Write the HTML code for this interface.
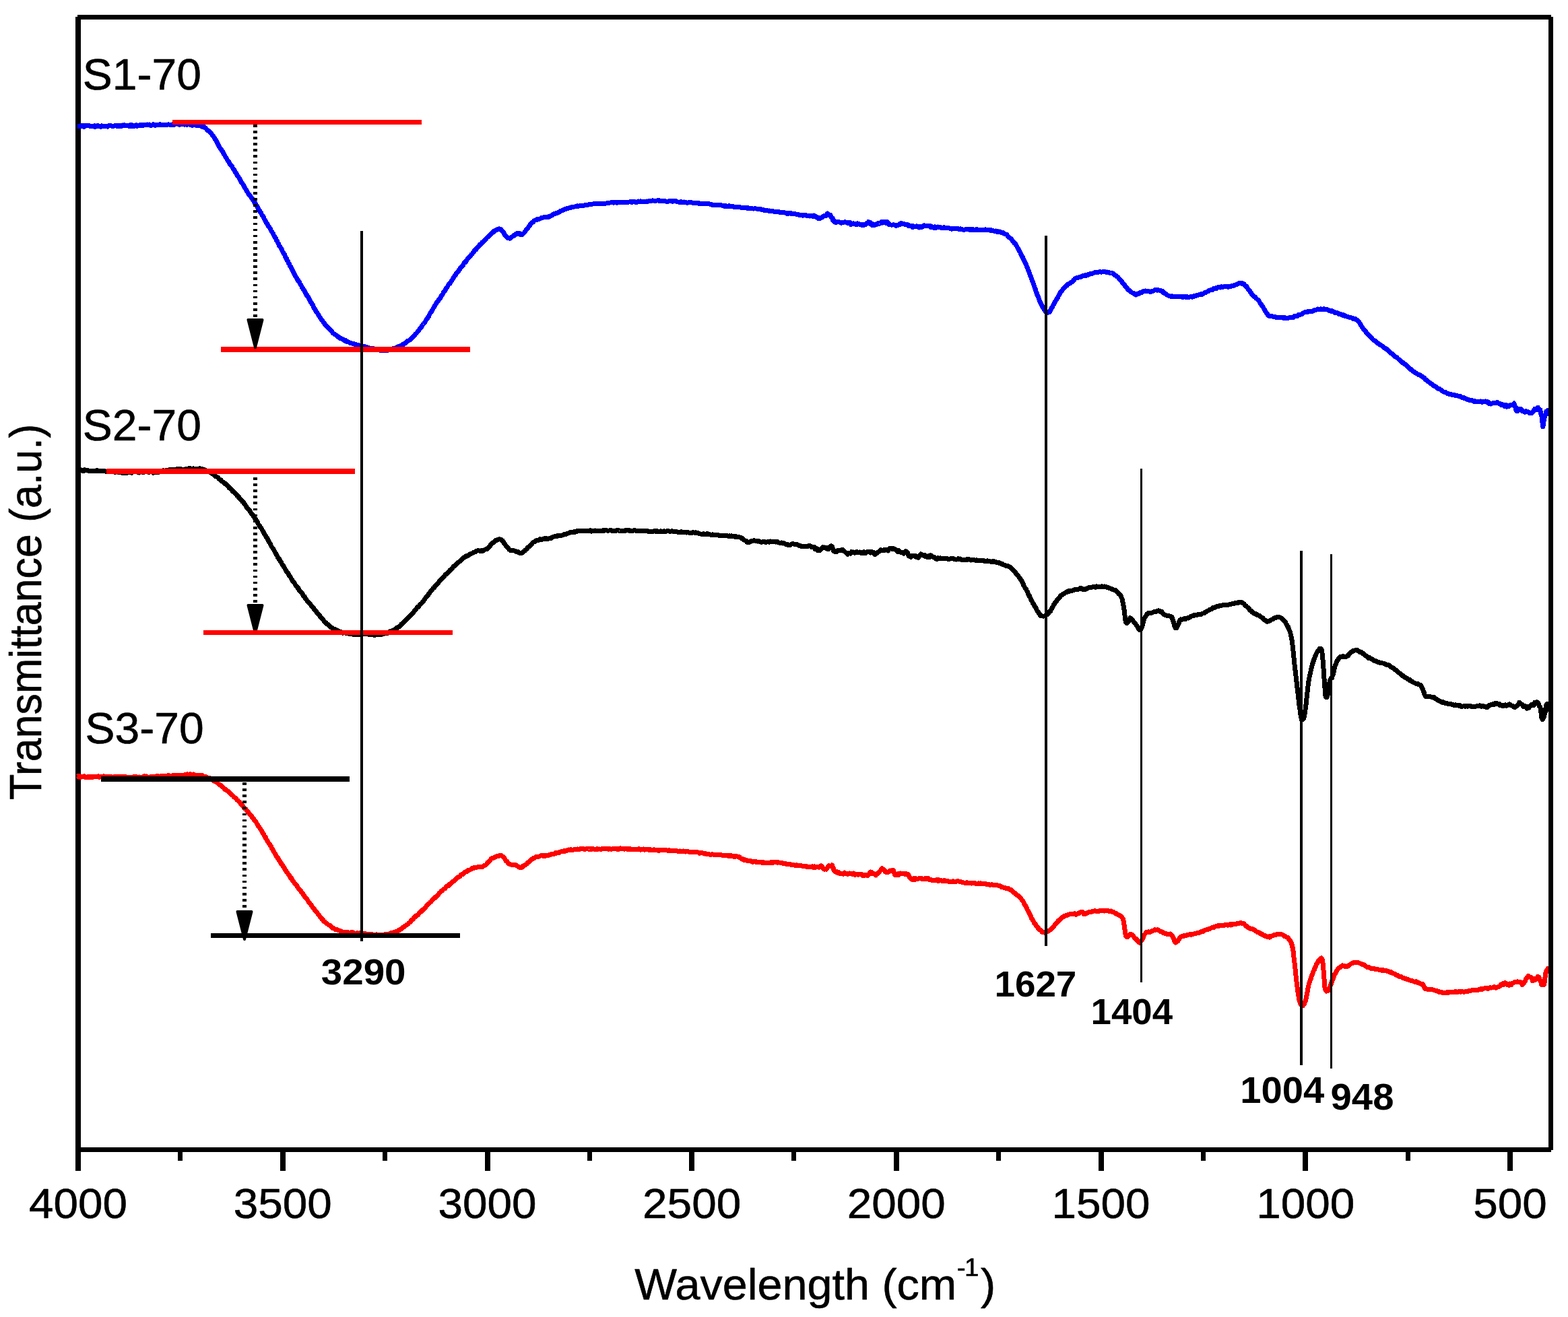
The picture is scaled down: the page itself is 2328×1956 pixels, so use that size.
<!DOCTYPE html>
<html lang="en">
<head>
<meta charset="utf-8">
<title>FTIR spectra S1-70, S2-70, S3-70</title>
<style>
html,body{margin:0;padding:0;background:#fff;}
body{width:2328px;height:1956px;}
svg{display:block;}
svg text{font-family:"Liberation Sans", Arial, Helvetica, sans-serif;fill:#000;stroke:#000;stroke-width:0.6px;stroke-linejoin:round;}
svg text[font-weight="bold"]{stroke:none;}
.curve{fill:none;stroke-linejoin:round;stroke-linecap:butt;}
</style>
</head>
<body>
<svg width="2328" height="1956" viewBox="0 0 2328 1956" role="img" aria-label="FTIR transmittance spectra of S1-70, S2-70 and S3-70">
<rect x="0" y="0" width="2328" height="1956" fill="#fff"/>
<g id="frame" fill="#000" shape-rendering="crispEdges">
<rect x="115" y="22" width="2188" height="7"/>
<rect x="112" y="25" width="8" height="1714"/>
<rect x="112" y="1704" width="2191" height="7"/>
<rect x="416" y="1708" width="8" height="31"/>
<rect x="720" y="1708" width="8" height="31"/>
<rect x="1023" y="1708" width="8" height="31"/>
<rect x="1327" y="1708" width="8" height="31"/>
<rect x="1631" y="1708" width="8" height="31"/>
<rect x="1934" y="1708" width="8" height="31"/>
<rect x="2238" y="1708" width="8" height="31"/>
<rect x="264" y="1708" width="7" height="16"/>
<rect x="568" y="1708" width="7" height="16"/>
<rect x="872" y="1708" width="7" height="16"/>
<rect x="1175" y="1708" width="7" height="16"/>
<rect x="1479" y="1708" width="7" height="16"/>
<rect x="1783" y="1708" width="7" height="16"/>
<rect x="2087" y="1708" width="7" height="16"/>
</g>
<g id="curves">
<path class="curve" stroke="#0000ff" stroke-width="7.0" shape-rendering="crispEdges" d="M115.0,187.3 115.8,187.3 116.7,187.6 117.7,187.2 118.8,187.9 120.1,186.7 121.4,187.5 122.8,186.2 124.2,188.3 125.8,187.7 127.4,186.3 129.1,186.4 130.8,186.7 132.6,186.9 134.4,187.7 136.2,187.4 138.1,187.5 140.0,186.7 141.2,188.5 142.5,188.0 143.8,186.9 145.1,186.5 146.5,187.3 147.9,187.4 149.3,188.5 150.8,186.9 152.2,187.6 153.7,187.7 155.2,187.8 156.7,187.2 158.3,187.0 159.8,188.1 161.4,186.8 163.0,186.2 164.5,186.6 166.1,187.1 167.7,187.5 169.3,187.2 170.8,186.5 172.4,186.1 173.9,187.5 175.5,187.6 177.0,186.4 178.5,187.2 180.0,187.7 181.5,186.0 183.0,186.4 184.4,185.8 185.9,186.6 187.4,186.5 188.9,186.2 190.3,186.6 191.8,187.4 193.3,185.7 194.7,187.3 196.2,185.9 197.7,187.5 199.1,187.3 200.6,186.8 202.1,185.7 203.6,187.2 205.0,186.5 206.5,186.6 208.0,185.6 209.5,186.3 211.0,185.1 212.5,186.5 214.0,185.4 215.5,185.5 217.0,185.3 218.5,184.9 220.0,185.3 221.5,184.9 223.0,186.3 224.5,186.1 226.1,186.0 227.7,184.6 229.3,186.1 230.9,186.3 232.6,185.4 234.2,185.5 235.8,186.0 237.5,184.8 239.1,185.7 240.8,185.4 242.4,186.0 244.0,185.3 245.6,185.9 247.1,185.6 248.7,185.3 250.2,184.8 251.7,185.2 253.1,185.0 254.6,185.7 255.9,184.7 257.2,185.1 258.5,185.5 259.7,185.0 260.9,184.4 262.0,183.7 264.4,184.3 266.5,185.2 268.3,183.2 270.0,184.5 271.5,183.4 272.9,184.7 274.1,185.2 275.3,184.7 276.5,184.2 277.6,185.4 278.8,184.6 280.0,184.6 281.8,184.8 283.5,185.9 285.1,186.3 286.6,184.7 288.1,185.0 289.4,185.3 290.7,185.8 292.0,186.6 293.8,186.3 295.5,185.4 296.9,186.0 298.4,187.5 300.0,188.2 301.2,187.7 302.4,188.2 303.6,189.3 304.8,189.6 306.1,191.1 307.3,192.4 308.6,194.0 309.5,193.9 310.4,194.8 311.4,195.9 312.3,196.6 313.3,197.9 314.3,199.3 315.2,200.8 316.2,202.1 317.1,202.6 318.1,204.9 318.8,205.4 319.6,207.2 320.3,207.9 321.0,209.5 321.8,210.5 322.5,211.4 323.2,213.6 323.9,214.8 324.7,216.2 325.4,217.7 326.1,218.8 326.9,220.1 327.6,220.7 328.4,222.0 329.2,223.7 330.0,224.0 330.7,225.5 331.5,227.1 332.3,229.1 333.1,229.4 333.9,231.5 334.7,232.9 335.5,234.1 336.3,235.0 337.1,236.8 337.9,238.1 338.6,239.0 339.3,240.2 340.0,240.9 340.7,242.8 341.4,243.6 342.2,244.4 343.0,245.1 343.8,246.7 344.6,247.3 345.6,249.6 346.5,251.4 347.6,252.6 348.2,253.1 348.9,254.7 349.6,256.7 350.4,257.1 351.1,258.2 351.9,260.3 352.7,260.8 353.6,262.5 354.4,263.4 355.3,264.7 356.1,266.3 357.0,267.9 357.8,269.7 358.7,271.1 359.5,272.2 360.4,273.1 361.2,274.8 362.0,276.1 362.8,277.1 363.6,279.0 364.3,280.1 365.0,281.5 365.7,282.2 366.7,284.6 367.6,285.5 368.5,287.5 369.3,288.7 370.1,288.8 370.8,290.6 371.6,290.7 372.3,292.3 373.1,293.1 373.8,294.8 374.6,295.1 375.4,297.3 376.2,297.7 377.1,299.8 378.0,301.2 378.7,301.3 379.4,302.3 380.2,304.2 380.9,305.0 381.7,306.3 382.5,308.8 383.4,309.1 384.2,311.5 385.0,312.6 385.8,313.6 386.7,315.0 387.5,315.8 388.3,318.4 389.1,319.2 389.9,320.5 390.7,321.4 391.5,322.5 392.2,325.0 393.0,326.4 393.6,326.9 394.3,328.2 395.2,330.2 396.0,331.6 396.7,332.6 397.4,333.3 398.0,335.0 398.6,335.8 399.1,336.3 399.7,336.9 400.4,338.4 401.1,339.2 401.8,340.9 402.7,342.8 403.7,343.7 404.8,346.1 405.3,346.9 405.9,348.4 406.5,349.7 407.1,350.0 407.8,352.1 408.5,352.8 409.2,353.6 409.9,354.8 410.6,357.2 411.4,358.1 412.2,359.8 413.0,361.5 413.7,362.3 414.5,364.7 415.3,366.2 416.1,366.9 416.9,368.4 417.8,369.4 418.6,371.5 419.3,373.3 420.1,374.2 420.9,376.1 421.7,377.7 422.4,378.1 423.1,379.4 423.9,381.6 424.5,383.1 425.2,383.4 425.9,386.0 426.5,386.9 427.0,387.4 427.6,388.3 428.6,391.2 429.6,392.4 430.4,394.7 431.2,395.3 431.9,397.2 432.6,397.8 433.3,399.2 433.9,401.1 434.5,401.7 435.1,403.1 435.7,404.4 436.3,406.3 436.9,406.6 437.6,408.5 438.3,409.5 439.0,410.2 439.7,411.9 440.3,413.2 441.0,413.7 441.6,415.8 442.3,416.9 442.9,416.6 443.5,418.1 444.2,418.8 444.9,419.9 445.6,421.7 446.3,422.9 447.0,423.9 447.8,424.9 448.6,427.1 449.5,427.4 450.4,429.7 451.4,430.9 452.4,432.7 453.0,434.0 453.6,435.9 454.3,436.4 455.0,438.1 455.7,438.5 456.4,440.3 457.2,440.4 457.9,442.3 458.7,443.5 459.5,444.7 460.3,446.8 461.1,447.5 461.9,449.6 462.7,450.2 463.6,452.4 464.4,453.0 465.2,455.2 466.1,457.3 466.9,458.2 467.8,459.5 468.6,460.9 469.4,463.1 470.2,463.6 471.1,464.9 471.9,466.2 472.7,467.6 473.4,468.9 474.2,470.2 475.0,471.5 475.7,472.1 476.4,473.3 477.1,474.4 478.2,476.2 479.3,477.0 480.4,479.4 481.5,479.7 482.5,482.1 483.5,482.8 484.6,484.0 485.5,484.5 486.5,486.2 487.5,487.3 488.5,487.7 489.4,489.3 490.4,490.0 491.3,491.2 492.3,491.8 493.2,493.1 494.2,494.3 495.2,495.3 496.2,495.9 497.5,497.0 498.7,497.7 500.0,498.3 501.3,500.4 502.5,500.1 503.8,501.2 505.1,502.6 506.3,502.4 507.6,503.5 508.9,503.8 510.1,504.7 511.4,506.1 512.7,505.5 513.9,506.2 515.2,507.5 516.7,507.6 518.1,508.2 519.6,509.3 521.1,509.5 522.5,510.0 524.0,510.9 525.5,510.8 527.0,512.0 528.4,511.4 529.9,512.6 531.4,512.3 532.8,512.9 534.3,513.8 535.8,513.3 537.2,513.9 538.7,514.7 540.2,514.9 541.6,514.6 543.1,515.1 544.5,516.0 546.0,517.1 547.4,516.8 548.9,517.3 550.4,517.6 551.8,518.1 553.3,517.5 554.8,517.7 556.2,518.5 557.7,519.1 559.2,519.1 560.6,519.6 562.1,519.6 563.6,520.0 565.1,520.6 566.5,521.0 568.0,520.3 569.5,520.1 570.9,520.7 572.4,520.5 573.9,519.9 575.3,520.5 576.8,520.0 578.3,519.2 579.7,518.8 581.2,518.8 582.6,518.9 584.1,517.6 585.5,517.2 587.0,517.0 588.5,516.1 589.9,515.9 591.4,514.6 592.7,514.3 593.9,514.2 595.2,513.3 596.5,512.4 597.8,511.5 599.0,511.7 600.3,510.4 601.6,510.0 602.9,508.5 604.1,507.4 605.4,506.4 606.7,506.1 608.0,505.3 609.2,504.6 610.5,502.7 611.5,501.4 612.4,501.3 613.4,500.6 614.3,499.4 615.3,497.9 616.2,497.2 617.2,495.6 618.1,495.1 619.1,493.9 620.0,492.8 620.9,491.5 621.9,490.2 622.8,489.1 623.8,487.8 624.7,487.1 625.7,485.8 626.6,483.6 627.6,482.2 628.5,481.5 629.5,480.5 630.3,478.7 631.1,478.1 631.9,476.7 632.7,475.1 633.5,473.6 634.3,473.5 635.1,471.8 635.9,470.7 636.7,469.4 637.5,467.6 638.3,465.9 639.1,464.5 639.8,463.2 640.6,463.1 641.4,460.9 642.2,460.2 643.0,458.7 643.8,456.7 644.6,455.8 645.4,454.3 646.2,452.8 647.0,451.6 647.8,450.5 648.6,448.9 649.4,447.8 650.3,447.3 651.1,445.7 651.9,444.9 652.7,443.7 653.6,442.8 654.4,441.4 655.2,439.5 656.0,438.9 656.9,437.1 657.7,436.3 658.5,433.9 659.3,433.8 660.2,432.3 661.0,430.7 661.8,429.1 662.6,428.3 663.5,427.0 664.3,426.0 665.1,424.2 665.9,423.1 666.8,421.4 667.6,421.6 668.5,420.3 669.3,418.9 670.2,417.5 671.1,416.5 671.9,414.9 672.8,413.2 673.7,411.5 674.5,410.6 675.4,409.0 676.3,408.9 677.1,407.0 678.0,405.4 678.9,405.2 679.8,403.4 680.6,403.1 681.5,400.8 682.4,400.5 683.2,398.5 684.1,397.7 685.0,396.3 685.8,396.3 686.7,394.6 687.7,393.6 688.6,391.1 689.6,390.3 690.5,390.0 691.5,387.9 692.4,387.8 693.4,385.5 694.3,384.5 695.3,383.3 696.2,382.0 697.1,381.7 698.1,380.4 699.0,379.3 700.0,377.7 700.9,377.2 701.9,376.0 702.8,375.2 703.8,373.5 704.7,371.8 705.7,371.1 706.8,370.5 707.9,368.5 709.0,367.3 710.1,366.4 711.2,365.6 712.3,363.4 713.5,363.2 714.6,362.2 715.7,360.1 716.8,359.6 717.9,358.4 719.0,357.2 720.0,356.6 721.1,355.2 722.1,353.9 723.0,353.0 723.9,352.2 724.8,352.0 726.3,350.7 727.6,348.8 728.9,347.6 730.1,345.8 731.2,345.8 732.3,345.1 733.3,343.2 734.3,342.8 735.2,342.2 736.2,342.0 738.0,341.2 739.5,340.3 740.9,339.8 742.3,340.1 743.8,340.7 744.8,341.9 745.7,343.1 746.7,344.7 747.7,345.4 748.7,347.4 749.6,349.2 750.5,349.9 751.4,350.6 752.9,351.9 754.2,353.8 755.6,353.6 757.1,354.2 758.3,352.9 759.6,352.1 760.9,351.2 762.3,349.8 763.6,349.8 764.8,348.8 766.4,347.3 767.9,346.7 769.3,347.3 770.5,346.3 771.8,347.7 772.8,348.6 774.3,348.3 775.2,348.6 776.1,347.7 777.2,346.6 778.3,345.8 779.5,344.3 780.7,342.2 781.9,340.9 782.8,339.3 783.7,338.5 784.6,337.2 785.6,336.5 786.5,334.7 787.5,333.2 788.5,332.4 789.5,330.7 790.4,329.9 791.4,329.9 792.7,328.1 794.0,327.0 795.3,326.8 796.6,326.8 797.9,325.4 799.4,325.3 801.0,325.3 802.2,324.8 803.6,323.5 804.9,323.5 806.4,323.0 807.9,322.7 809.4,322.9 810.9,322.3 812.3,322.3 813.8,322.6 815.2,321.4 816.5,321.5 817.8,320.5 819.1,319.8 820.3,319.2 821.6,318.0 822.9,317.9 824.2,317.5 825.6,316.3 827.0,316.5 828.6,315.4 829.9,315.3 831.1,313.9 832.4,313.2 833.7,313.1 835.1,312.3 836.4,311.9 837.9,310.9 839.3,310.8 840.9,310.4 842.4,309.1 844.1,309.1 845.8,308.7 847.6,308.4 848.9,307.5 850.2,307.6 851.5,307.3 852.8,307.0 854.2,306.8 855.6,306.2 857.0,305.9 858.5,306.2 860.0,306.0 861.5,305.4 863.0,305.9 864.6,305.2 866.1,305.4 867.8,305.0 869.4,304.5 871.1,304.7 872.7,304.1 874.5,303.6 876.2,303.8 877.5,303.4 878.9,303.2 880.3,303.0 881.8,302.9 883.2,303.0 884.7,302.5 886.2,302.9 887.7,302.8 889.2,303.0 890.8,302.4 892.3,302.9 893.9,302.5 895.4,302.4 897.0,302.7 898.6,302.2 900.2,302.0 901.8,301.4 903.4,301.8 904.9,301.2 906.5,300.9 908.1,300.8 909.7,300.5 911.2,301.1 912.8,300.6 914.3,300.7 915.8,301.1 917.4,300.1 919.0,300.5 920.6,300.4 922.2,300.3 923.8,300.4 925.4,300.8 927.0,301.0 928.7,300.3 930.3,300.6 931.9,300.9 933.5,300.1 935.1,299.8 936.7,299.4 938.3,300.6 939.8,299.6 941.3,300.0 942.8,299.9 944.3,300.8 945.8,300.1 947.2,299.0 948.5,299.8 949.9,299.1 951.2,298.8 952.4,299.4 954.3,299.0 956.1,299.8 957.8,299.0 959.3,299.4 960.7,299.0 962.1,299.1 963.4,298.5 964.7,298.2 966.0,298.5 967.3,298.2 968.7,297.9 970.1,298.0 971.7,298.2 973.4,298.3 975.2,298.0 976.5,297.6 977.8,298.1 979.1,297.8 980.4,298.9 981.8,298.7 983.2,298.2 984.7,298.3 986.1,298.4 987.6,298.7 989.1,299.1 990.6,299.4 992.2,299.2 993.7,298.5 995.3,298.4 996.8,298.2 998.4,299.2 1000.0,299.0 1001.6,298.5 1003.2,298.6 1004.8,299.8 1006.3,299.9 1007.9,300.1 1009.5,300.2 1011.0,299.6 1012.4,300.2 1013.9,300.1 1015.4,300.0 1016.9,300.4 1018.4,300.6 1019.9,301.3 1021.4,301.1 1022.9,300.6 1024.5,300.9 1026.0,300.9 1027.5,300.9 1029.1,301.6 1030.6,301.2 1032.2,301.2 1033.7,301.6 1035.3,301.7 1036.8,301.5 1038.4,302.6 1039.9,302.5 1041.5,302.5 1043.0,302.8 1044.5,302.9 1046.1,302.3 1047.6,302.2 1049.1,303.0 1050.5,302.8 1052.0,302.9 1053.5,302.9 1054.9,303.4 1056.4,303.4 1057.9,304.4 1059.3,304.3 1060.8,304.3 1062.3,304.6 1063.7,304.3 1065.2,304.4 1066.7,304.2 1068.1,304.9 1069.6,304.3 1071.0,305.0 1072.5,305.3 1074.0,305.0 1075.4,306.2 1076.9,305.5 1078.4,306.6 1079.8,306.5 1081.3,306.6 1082.8,305.7 1084.2,306.5 1085.7,307.0 1087.2,306.8 1088.6,306.5 1090.1,307.6 1091.6,307.7 1093.0,307.4 1094.5,307.2 1096.0,307.8 1097.4,307.6 1098.9,307.8 1100.4,308.2 1101.8,308.5 1103.3,308.8 1104.8,308.0 1106.2,308.1 1107.7,308.4 1109.1,309.3 1110.6,308.5 1112.1,309.5 1113.5,309.8 1115.0,309.9 1116.5,309.5 1117.9,310.0 1119.4,310.0 1120.9,309.3 1122.3,309.9 1123.8,310.1 1125.3,310.9 1126.8,310.2 1128.3,311.0 1129.9,310.6 1131.4,311.6 1133.0,311.2 1134.6,312.3 1136.2,312.2 1137.8,312.4 1139.4,312.7 1141.0,313.2 1142.5,312.9 1144.1,313.8 1145.7,313.7 1147.2,313.7 1148.7,314.2 1150.2,314.4 1151.7,314.2 1153.1,314.4 1154.5,315.0 1155.8,314.5 1157.1,314.9 1158.4,316.0 1159.6,315.7 1160.8,315.3 1161.9,315.3 1164.1,315.8 1166.1,316.1 1167.8,317.1 1169.4,316.9 1170.8,317.3 1172.1,316.5 1173.4,317.1 1174.6,316.8 1175.9,317.8 1177.2,317.4 1178.5,317.1 1180.0,317.3 1181.5,317.9 1182.9,318.8 1184.5,318.4 1186.0,319.1 1187.6,319.8 1189.1,319.1 1190.7,319.6 1192.2,320.1 1193.7,319.4 1195.1,319.6 1196.5,319.5 1197.8,320.3 1199.0,320.7 1200.8,320.9 1202.6,321.1 1204.2,320.6 1205.6,321.1 1207.0,321.7 1208.3,320.0 1209.4,320.7 1210.5,321.5 1212.1,321.8 1213.2,323.4 1214.0,323.4 1215.2,324.8 1216.4,324.8 1217.7,323.6 1219.1,323.6 1220.5,322.7 1221.9,321.2 1223.2,320.6 1224.6,320.7 1225.9,319.7 1227.3,320.0 1228.6,317.1 1229.7,319.2 1230.9,319.8 1232.1,320.0 1233.2,319.7 1234.3,323.1 1235.2,323.9 1235.9,323.7 1236.3,324.3 1236.6,327.1 1237.4,327.1 1239.0,329.4 1239.9,329.2 1241.0,330.5 1242.2,329.1 1243.5,329.4 1244.8,329.9 1246.3,329.9 1247.8,330.3 1249.4,331.2 1251.1,330.3 1252.7,330.3 1254.5,329.5 1256.2,330.3 1257.5,330.3 1258.9,331.5 1260.3,331.1 1261.9,330.6 1263.4,333.5 1265.0,332.6 1266.7,331.9 1268.3,333.0 1270.0,332.8 1271.6,333.7 1273.1,331.8 1274.7,332.3 1276.1,333.1 1277.5,333.4 1278.8,334.1 1280.0,334.7 1281.0,333.2 1283.4,334.2 1285.0,333.4 1286.3,332.8 1287.3,331.5 1288.3,331.9 1289.5,329.4 1290.9,332.0 1292.2,330.5 1293.5,332.5 1294.9,334.8 1296.4,333.1 1298.1,334.3 1299.4,334.1 1300.8,333.7 1302.3,332.5 1303.9,331.4 1305.5,332.5 1307.1,331.3 1308.6,329.4 1310.1,331.1 1311.4,331.0 1313.0,329.5 1314.4,331.0 1315.8,331.3 1317.1,329.6 1318.4,331.1 1319.7,333.4 1321.0,333.2 1322.4,333.9 1323.7,334.1 1325.1,334.0 1326.4,333.8 1327.8,334.1 1329.1,335.0 1330.5,335.2 1331.8,334.7 1333.0,334.6 1334.3,333.8 1335.5,332.8 1336.9,333.2 1338.3,331.5 1340.0,332.6 1341.2,332.3 1342.4,332.4 1343.7,333.8 1345.1,333.3 1346.5,333.2 1348.0,333.6 1349.4,336.0 1350.9,335.9 1352.4,336.0 1353.8,335.2 1355.2,337.5 1356.7,336.0 1358.2,336.5 1359.7,337.0 1361.1,335.8 1362.6,337.0 1364.1,338.0 1365.6,336.3 1367.2,337.3 1368.8,337.3 1370.5,335.7 1371.8,334.8 1373.2,335.5 1374.6,335.3 1376.1,335.7 1377.5,335.1 1379.0,335.7 1380.5,335.2 1382.0,337.5 1383.5,336.8 1385.0,337.1 1386.5,338.3 1388.0,336.8 1389.5,338.3 1391.0,338.0 1392.4,337.0 1393.9,337.8 1395.4,337.7 1396.8,337.6 1398.3,338.5 1399.8,338.5 1401.3,337.6 1402.7,338.0 1404.2,338.2 1405.7,338.7 1407.1,338.6 1408.6,338.8 1410.1,339.3 1411.5,339.8 1413.0,340.1 1414.5,339.2 1415.9,339.4 1417.4,339.6 1418.8,339.5 1420.3,339.9 1421.7,339.5 1423.2,340.1 1424.7,340.4 1426.1,339.9 1427.6,340.4 1429.1,341.0 1430.5,341.1 1432.0,341.3 1433.5,340.5 1434.9,340.9 1436.4,340.8 1437.9,340.3 1439.4,341.5 1440.8,340.2 1442.3,341.5 1443.8,340.1 1445.2,341.2 1446.7,341.1 1448.2,341.6 1449.7,340.4 1451.2,341.8 1452.8,341.2 1454.4,341.1 1455.9,341.6 1457.4,341.3 1459.0,341.1 1460.4,341.4 1461.8,341.9 1463.2,340.9 1464.5,341.4 1465.7,341.4 1467.5,341.9 1469.0,341.9 1470.4,342.4 1471.8,341.7 1473.0,342.0 1474.3,342.8 1475.6,343.0 1477.1,343.4 1478.5,342.9 1480.0,344.2 1481.5,343.6 1483.0,344.9 1484.6,344.0 1486.1,345.4 1487.6,345.8 1489.1,345.6 1490.5,346.9 1491.7,347.6 1492.9,347.8 1494.1,348.0 1495.3,349.1 1496.4,350.9 1497.6,352.1 1498.7,353.0 1499.8,353.7 1500.8,354.2 1501.9,355.8 1502.8,357.1 1503.7,357.9 1504.6,358.5 1505.5,360.6 1506.3,360.6 1507.2,361.6 1508.0,362.9 1508.9,364.6 1509.7,366.0 1510.5,367.5 1511.4,368.5 1512.1,369.6 1512.8,371.6 1513.5,372.7 1514.1,373.6 1514.8,374.9 1515.5,377.3 1516.2,378.1 1516.9,379.5 1517.6,381.4 1518.3,381.7 1518.9,383.8 1519.6,384.7 1520.3,386.9 1521.0,387.3 1521.6,389.5 1522.1,390.6 1522.7,391.3 1523.2,392.6 1523.8,393.7 1524.4,395.2 1524.9,396.9 1525.5,397.9 1526.0,399.7 1526.6,401.0 1527.2,402.1 1527.7,403.6 1528.3,405.9 1528.8,406.5 1529.4,409.0 1529.9,409.2 1530.5,410.8 1531.0,412.1 1531.5,413.7 1532.0,415.5 1532.5,416.7 1533.0,418.6 1533.6,419.3 1534.1,420.8 1534.6,422.3 1535.1,423.7 1535.6,425.1 1536.1,426.8 1536.6,428.0 1537.1,429.2 1537.6,430.9 1538.1,433.1 1538.6,434.5 1539.1,435.1 1539.5,437.1 1540.0,437.6 1540.7,439.7 1541.3,440.6 1541.9,441.9 1542.5,444.3 1543.1,446.0 1543.7,447.3 1544.3,448.7 1544.9,449.1 1545.5,450.6 1546.0,452.4 1546.6,452.8 1547.1,454.2 1547.6,455.4 1548.5,456.9 1549.4,458.4 1550.2,460.1 1551.0,460.6 1551.7,462.0 1552.5,463.4 1553.3,462.8 1554.7,463.4 1556.0,464.3 1557.4,463.8 1559.0,462.3 1559.6,460.9 1560.3,459.6 1560.9,458.0 1561.6,457.0 1562.3,456.4 1563.0,454.7 1563.8,452.8 1564.5,451.8 1565.2,450.8 1566.0,449.4 1566.7,447.3 1567.4,446.7 1568.2,445.7 1569.0,443.6 1569.8,442.6 1570.6,441.6 1571.3,439.7 1572.1,438.3 1572.9,437.3 1573.7,435.7 1574.5,434.1 1575.2,433.6 1576.2,432.5 1577.2,430.8 1578.2,429.5 1579.1,428.0 1580.1,427.6 1581.0,426.4 1581.9,426.0 1582.9,424.2 1584.2,424.2 1585.4,422.2 1586.7,421.4 1588.0,421.2 1589.2,420.7 1590.5,419.3 1591.6,419.0 1592.6,417.8 1593.6,416.2 1594.6,416.3 1595.7,414.2 1596.8,413.4 1598.1,412.9 1599.3,412.2 1600.7,412.3 1602.1,411.7 1603.6,411.5 1605.1,411.1 1606.6,409.9 1608.0,409.5 1609.5,409.5 1610.9,408.7 1612.4,409.5 1613.9,408.6 1615.4,408.6 1616.8,407.0 1618.3,407.2 1619.7,406.2 1621.0,406.5 1622.7,405.8 1624.3,405.1 1625.9,404.8 1627.4,404.4 1628.9,404.3 1630.5,404.5 1632.1,403.9 1633.7,403.7 1635.2,404.1 1636.8,403.9 1638.4,403.6 1640.0,403.2 1641.6,404.2 1643.2,404.0 1644.8,404.2 1646.3,404.6 1647.9,405.3 1649.5,405.5 1650.9,405.5 1652.3,406.1 1653.7,406.9 1655.1,408.7 1656.4,409.4 1657.7,409.8 1659.0,411.3 1660.0,411.9 1661.1,413.2 1662.0,414.1 1663.0,415.2 1663.9,416.2 1664.8,416.9 1665.8,418.4 1666.7,420.4 1667.6,420.9 1668.6,422.0 1669.5,423.2 1670.4,424.7 1671.3,426.0 1672.3,426.3 1673.3,427.9 1674.3,429.7 1675.4,430.8 1676.6,431.6 1677.9,431.9 1679.2,433.6 1680.4,434.4 1681.6,435.1 1682.8,435.5 1683.8,436.9 1685.4,436.9 1686.7,438.0 1687.9,436.7 1689.5,435.9 1690.7,436.5 1691.9,435.5 1693.3,434.2 1694.7,434.6 1696.2,433.5 1697.6,432.5 1699.0,432.1 1700.6,432.0 1702.3,432.7 1703.9,432.7 1705.5,432.6 1707.1,433.2 1708.6,433.5 1710.2,432.4 1711.8,432.4 1713.3,431.7 1714.7,430.6 1716.2,430.2 1717.7,431.2 1719.2,430.5 1720.8,431.1 1722.3,431.3 1723.8,432.0 1725.1,432.5 1726.3,432.6 1727.6,434.9 1728.9,435.9 1730.1,435.8 1731.4,437.4 1732.6,437.5 1733.8,438.9 1735.0,439.2 1736.2,439.8 1737.5,440.0 1739.0,440.2 1740.2,439.9 1741.6,440.7 1742.9,440.0 1744.4,440.6 1745.9,440.3 1747.4,440.9 1748.9,440.7 1750.5,440.6 1751.9,440.4 1753.3,440.6 1754.7,440.8 1756.2,441.5 1757.7,440.3 1759.2,440.3 1760.7,441.3 1762.2,440.6 1763.8,441.6 1765.3,441.3 1766.8,440.8 1768.4,440.6 1770.0,441.1 1771.6,440.7 1773.2,439.3 1774.8,439.6 1776.3,438.9 1777.7,438.9 1779.0,438.1 1780.6,437.7 1782.1,437.5 1783.4,436.7 1784.7,437.3 1785.9,436.5 1787.2,435.7 1788.6,434.8 1789.9,434.7 1791.3,433.7 1792.7,432.9 1794.2,432.7 1795.6,431.3 1797.1,430.7 1798.6,430.7 1800.0,430.4 1801.4,428.8 1802.8,428.7 1804.1,429.0 1805.5,427.7 1806.8,428.2 1808.3,426.9 1809.8,426.3 1811.4,427.1 1812.8,426.0 1814.3,425.8 1815.9,426.3 1817.5,425.6 1819.2,425.9 1820.8,425.7 1822.4,425.5 1823.9,426.4 1825.4,425.2 1826.7,425.7 1828.4,424.5 1829.9,424.1 1831.2,424.3 1832.5,424.0 1833.7,423.2 1834.9,423.0 1836.2,422.5 1837.7,422.1 1839.2,420.8 1840.7,421.0 1842.1,420.4 1843.5,421.4 1844.8,420.9 1846.0,421.8 1847.1,421.9 1848.2,423.5 1849.2,424.7 1850.3,424.9 1851.4,427.2 1852.2,428.2 1853.0,429.3 1853.8,430.5 1854.6,430.7 1855.4,431.7 1856.3,433.6 1857.2,434.3 1858.1,436.4 1859.0,437.0 1860.0,438.3 1861.0,439.0 1862.1,440.7 1863.2,441.0 1864.4,442.4 1865.5,443.6 1866.6,444.5 1867.6,445.1 1868.6,446.5 1869.5,447.3 1870.4,449.4 1871.3,450.5 1872.1,451.3 1872.9,453.2 1873.7,454.3 1874.5,454.8 1875.4,456.2 1876.2,458.1 1877.0,459.6 1877.8,460.0 1878.6,461.9 1879.4,463.3 1880.2,464.5 1881.0,465.3 1881.9,467.0 1882.8,468.0 1883.8,468.9 1885.0,469.8 1886.3,469.4 1887.7,469.5 1889.1,469.8 1890.6,470.3 1892.1,470.9 1893.7,470.7 1895.2,471.8 1896.6,471.1 1898.1,471.1 1899.7,471.4 1901.2,471.8 1902.8,471.3 1904.3,471.7 1905.8,472.6 1907.3,471.5 1908.6,471.9 1910.4,472.5 1912.0,472.9 1913.5,471.9 1914.9,471.7 1916.5,471.7 1918.1,471.0 1919.4,471.8 1920.8,470.8 1922.2,469.4 1923.7,469.1 1925.1,469.2 1926.6,469.3 1928.1,467.4 1929.5,467.2 1930.9,467.1 1932.4,466.9 1933.9,465.3 1935.3,464.6 1936.8,464.0 1938.2,463.4 1939.6,463.1 1941.0,463.6 1942.5,462.2 1943.9,462.7 1945.3,462.3 1946.6,462.4 1948.0,462.4 1949.4,461.7 1950.9,461.0 1952.3,460.6 1953.6,460.4 1955.1,459.9 1956.5,459.0 1958.0,459.5 1959.4,459.6 1960.9,458.9 1962.3,459.4 1963.7,459.5 1965.1,458.9 1966.4,459.0 1967.8,459.0 1969.1,459.3 1970.6,459.8 1972.1,460.4 1973.7,461.4 1974.9,461.1 1976.2,462.3 1977.6,461.5 1979.0,462.8 1980.4,462.8 1981.8,464.3 1983.3,464.7 1984.7,464.8 1986.2,464.9 1987.6,466.0 1989.0,467.0 1990.4,466.3 1991.8,467.4 1993.3,468.5 1994.7,467.8 1996.1,468.8 1997.6,469.8 1999.0,469.7 2000.3,470.4 2001.7,470.6 2003.0,471.1 2004.2,471.8 2005.8,471.8 2007.4,472.3 2008.9,473.4 2010.4,473.4 2011.8,473.3 2013.1,474.9 2014.4,475.1 2015.6,476.5 2016.6,476.6 2017.5,477.5 2018.4,479.3 2019.2,480.4 2020.0,481.3 2020.8,483.4 2021.6,484.6 2022.4,485.7 2023.2,487.0 2024.1,488.8 2025.0,489.5 2025.9,490.2 2026.8,491.6 2027.7,492.3 2028.7,494.2 2029.8,495.5 2030.9,496.5 2031.8,496.9 2032.7,498.4 2033.6,498.9 2034.6,499.7 2035.6,501.3 2036.7,501.8 2037.7,503.7 2038.8,504.9 2039.9,505.3 2041.1,506.0 2042.3,507.0 2043.4,507.7 2044.6,509.7 2045.8,509.7 2047.1,510.3 2048.4,512.0 2049.7,512.5 2051.0,513.2 2052.3,514.1 2053.6,515.7 2054.9,516.5 2056.2,517.1 2057.5,518.3 2058.7,518.7 2059.8,518.9 2061.0,520.0 2062.2,521.7 2063.4,523.3 2064.6,524.0 2065.7,525.1 2066.9,525.3 2068.1,526.6 2069.3,528.0 2070.5,528.8 2071.6,530.2 2072.8,530.1 2074.0,530.9 2075.2,532.2 2076.4,533.4 2077.6,534.2 2078.8,535.3 2080.0,537.0 2081.2,537.5 2082.4,538.7 2083.6,538.7 2084.8,540.2 2085.9,541.0 2087.0,541.6 2088.0,542.5 2089.3,543.5 2090.5,544.5 2091.7,546.1 2092.8,547.5 2093.9,547.8 2095.0,549.2 2096.1,549.4 2097.2,551.3 2098.3,551.4 2099.4,552.0 2100.7,553.7 2102.0,554.1 2103.2,554.5 2104.5,555.4 2105.8,556.4 2107.1,556.6 2108.3,557.2 2109.6,558.3 2110.9,558.8 2112.0,559.4 2113.1,560.5 2114.2,560.9 2115.3,562.2 2116.4,564.0 2117.5,564.1 2118.6,565.1 2119.8,566.4 2121.0,567.3 2122.3,567.8 2123.4,569.4 2124.6,570.1 2125.8,570.2 2127.1,571.3 2128.4,572.8 2129.7,573.2 2131.0,574.0 2132.3,574.7 2133.6,576.4 2134.9,577.3 2136.2,577.1 2137.5,578.0 2138.9,578.8 2140.3,579.8 2141.7,581.0 2143.1,581.9 2144.5,582.2 2145.8,582.4 2147.2,583.2 2148.6,584.2 2150.0,584.2 2151.4,585.6 2152.8,585.4 2154.3,585.5 2155.8,586.6 2157.4,587.0 2158.9,586.6 2160.4,587.4 2161.9,587.8 2163.4,587.6 2165.0,588.3 2166.5,588.1 2168.0,588.6 2169.4,589.6 2170.8,590.3 2172.1,590.0 2173.5,591.2 2174.9,591.4 2176.3,592.2 2177.7,593.2 2179.0,593.7 2180.4,593.8 2181.8,594.3 2183.2,594.9 2184.8,594.4 2186.3,595.5 2188.0,596.2 2189.6,595.7 2191.2,596.5 2192.8,596.1 2194.3,596.5 2195.8,596.7 2197.2,597.0 2198.5,596.0 2200.5,597.3 2202.2,596.5 2203.8,597.0 2205.3,596.0 2206.7,597.1 2208.0,596.9 2209.6,596.8 2211.0,599.6 2212.2,599.3 2213.7,600.1 2215.1,599.0 2216.5,598.6 2218.0,598.2 2219.6,598.6 2221.3,598.6 2222.6,597.4 2223.9,598.8 2225.3,598.9 2226.7,599.9 2228.1,599.8 2229.5,601.8 2230.9,600.8 2232.5,601.5 2234.1,603.6 2235.8,601.5 2237.4,604.1 2238.9,602.9 2240.4,603.7 2242.1,601.8 2243.8,602.0 2245.3,600.9 2246.8,601.0 2248.0,598.9 2248.7,602.3 2249.4,603.6 2249.9,605.5 2250.4,605.0 2250.8,609.0 2251.3,608.2 2251.8,610.6 2252.8,610.7 2253.8,608.0 2255.6,607.9 2256.7,607.4 2258.0,607.1 2259.4,610.2 2260.9,610.5 2262.5,610.9 2264.1,612.2 2265.6,610.6 2267.0,611.7 2268.8,611.6 2270.5,613.3 2272.3,613.5 2273.9,613.4 2275.4,612.6 2276.6,610.9 2277.7,608.8 2278.4,607.5 2279.0,609.2 2279.6,607.1 2280.4,607.9 2281.8,608.2 2283.3,605.1 2284.8,608.3 2286.1,609.9 2286.7,608.4 2287.2,611.9 2287.6,613.3 2288.0,615.5 2288.3,616.1 2288.7,617.6 2289.0,618.4 2289.2,621.9 2289.4,620.9 2289.6,622.2 2289.8,625.0 2290.0,627.3 2290.2,629.9 2290.4,632.0 2290.5,631.6 2290.7,630.5 2290.9,633.9 2291.1,632.2 2291.3,630.7 2291.5,628.8 2291.6,627.8 2291.8,627.9 2292.0,625.5 2292.3,624.4 2292.5,620.0 2292.8,621.3 2293.3,619.8 2293.8,617.0 2294.4,615.5 2295.0,614.8 2295.6,611.1 2296.1,611.0 2296.6,611.0 2297.4,609.7 2298.0,612.6 2298.6,614.7 2299.0,617.6"/>
<path class="curve" stroke="#000000" stroke-width="7.0" shape-rendering="crispEdges" d="M115.0,697.6 115.8,699.1 116.8,697.2 118.0,697.7 119.3,697.7 120.8,698.2 122.3,699.4 123.9,699.5 125.6,697.8 127.3,699.0 129.0,698.1 130.8,699.0 132.5,699.6 134.1,699.4 135.7,699.5 137.3,700.0 138.7,699.5 140.0,699.5 141.8,699.6 143.6,698.5 145.2,699.0 146.7,699.7 148.2,699.0 149.7,699.4 151.1,699.1 152.5,699.7 154.0,699.8 155.5,699.7 157.1,700.1 158.5,700.9 159.8,699.8 161.1,700.9 162.5,700.5 163.8,699.7 165.1,700.2 166.5,700.7 167.9,700.7 169.4,699.9 170.9,701.6 172.5,700.6 174.2,700.4 176.0,702.0 177.3,701.5 178.6,701.8 180.0,701.9 181.5,702.5 182.9,702.4 184.4,701.6 186.0,702.7 187.5,702.9 189.1,701.7 190.7,701.4 192.3,701.9 194.0,701.0 195.6,702.2 197.2,700.4 198.8,700.5 200.4,700.6 201.9,700.4 203.5,700.6 205.0,701.6 206.5,702.1 208.0,700.9 209.6,700.4 211.1,701.2 212.7,701.6 214.2,701.2 215.8,700.6 217.3,700.1 218.9,700.4 220.4,701.6 221.9,701.1 223.4,700.2 224.9,700.1 226.3,700.2 227.7,702.2 229.1,700.8 230.4,700.5 231.7,701.8 233.0,700.1 234.8,701.1 236.4,701.1 238.0,700.6 239.5,700.9 241.0,699.3 242.4,698.8 243.8,699.5 245.2,699.9 246.5,698.6 247.9,699.7 249.2,698.6 250.6,698.0 252.0,697.3 253.5,697.4 255.0,698.7 256.4,697.5 257.8,697.7 259.2,697.9 260.6,697.9 262.1,697.6 263.5,696.2 265.0,696.0 266.6,697.5 268.3,696.6 270.0,697.3 271.3,697.6 272.7,697.3 274.2,697.6 275.7,696.6 277.3,696.2 278.9,697.4 280.5,695.4 282.2,695.5 283.8,696.0 285.4,696.1 287.0,695.9 288.5,696.1 290.0,697.3 291.4,696.6 292.7,697.5 293.9,696.1 295.0,696.0 297.2,695.9 299.0,697.6 300.5,696.7 301.7,697.9 302.8,697.2 303.9,697.9 305.0,698.7 306.5,699.3 307.7,699.7 308.9,700.4 310.3,700.6 312.0,701.2 313.0,702.2 314.1,702.7 315.2,703.9 316.4,703.9 317.7,705.6 319.0,705.9 320.3,707.8 321.8,708.0 323.2,708.9 324.8,711.0 325.8,711.7 326.8,712.5 327.8,712.6 328.8,714.1 329.9,715.0 331.0,715.8 332.2,717.0 333.3,718.3 334.5,718.3 335.7,719.3 336.8,720.3 338.0,721.8 339.2,722.8 340.4,724.7 341.5,724.9 342.7,726.7 343.8,726.9 344.8,728.9 345.8,730.0 346.9,730.1 347.9,731.3 348.9,732.2 350.0,733.6 351.0,734.6 352.0,736.1 353.1,736.7 354.1,738.6 355.1,738.6 356.1,740.6 357.2,742.0 358.1,742.4 359.1,744.1 360.1,745.3 361.1,745.4 362.0,747.2 362.9,748.7 363.9,749.6 364.9,751.3 365.8,751.8 366.7,754.2 367.7,754.6 368.6,755.9 369.4,756.9 370.3,758.4 371.2,759.1 372.0,760.8 372.9,762.1 373.7,763.3 374.6,763.7 375.5,764.7 376.3,766.8 377.2,768.1 378.1,769.5 378.9,770.4 379.7,771.6 380.5,772.4 381.3,773.6 382.1,775.3 382.9,777.3 383.7,778.7 384.5,779.6 385.3,781.0 386.1,781.7 386.9,783.9 387.7,784.4 388.5,785.6 389.3,787.2 390.1,788.3 390.9,789.8 391.7,791.7 392.5,793.4 393.3,794.0 394.0,795.1 394.8,796.9 395.5,798.1 396.2,798.4 396.9,800.1 397.7,801.3 398.4,802.5 399.1,804.8 399.9,805.3 400.6,806.8 401.3,807.6 402.0,809.8 402.8,810.9 403.5,812.4 404.2,813.2 405.0,814.1 405.7,815.5 406.4,816.5 407.1,817.7 407.9,819.2 408.6,820.8 409.4,821.6 410.2,823.8 411.0,825.0 411.8,825.7 412.6,828.0 413.4,828.4 414.2,830.6 415.0,830.9 415.8,833.2 416.6,833.7 417.4,834.9 418.2,836.8 419.0,838.6 419.8,839.0 420.6,840.0 421.4,842.1 422.2,842.9 423.0,844.6 423.8,846.2 424.6,847.4 425.5,848.8 426.3,850.4 427.2,850.8 428.0,851.8 428.9,854.0 429.7,854.9 430.6,855.7 431.4,857.4 432.2,859.0 433.1,860.5 433.9,861.6 434.8,863.3 435.6,864.0 436.5,864.9 437.3,866.2 438.2,868.0 439.0,869.3 439.9,870.1 440.8,871.5 441.7,873.0 442.6,873.3 443.5,875.0 444.4,876.9 445.3,877.5 446.2,878.2 447.1,879.4 448.0,880.4 448.9,881.5 449.8,884.1 450.7,884.8 451.6,886.2 452.5,886.3 453.4,888.6 454.3,889.7 455.3,891.1 456.2,892.3 457.2,893.7 458.1,894.4 459.1,896.0 460.1,896.9 461.1,897.6 462.0,899.6 463.0,900.3 463.9,901.4 464.9,902.4 465.8,903.5 466.8,905.2 467.7,906.4 468.6,907.7 469.5,908.3 470.5,910.0 471.5,910.4 472.5,912.4 473.5,913.4 474.5,913.9 475.5,916.1 476.4,916.8 477.4,918.0 478.3,918.4 479.3,919.6 480.2,920.9 481.1,922.7 482.0,923.1 482.9,924.5 484.1,924.7 485.3,926.6 486.4,927.2 487.5,928.2 488.6,929.1 489.7,930.4 490.8,930.9 491.9,932.0 493.1,932.5 494.3,933.5 495.5,934.4 496.8,934.4 498.1,934.8 499.4,935.6 500.7,936.9 502.0,936.8 503.4,937.4 504.8,938.5 506.2,938.6 507.6,939.1 509.0,940.1 510.5,939.6 512.0,939.8 513.5,940.5 515.0,941.0 516.6,940.6 518.1,941.3 519.7,941.1 521.3,941.9 522.9,941.6 524.4,942.3 525.9,942.2 527.5,942.4 529.1,941.5 530.7,942.3 532.3,941.8 533.8,942.3 535.4,941.8 537.0,941.1 538.5,941.8 540.0,941.7 541.6,941.2 543.2,941.5 544.8,941.9 546.3,941.7 547.8,942.4 549.3,941.7 550.8,942.6 552.3,942.5 553.8,942.7 555.2,943.1 556.8,943.4 558.3,942.8 559.8,942.1 561.3,942.8 562.8,942.3 564.2,941.8 565.7,942.5 567.1,941.9 568.6,941.4 570.1,941.2 571.6,940.4 573.1,940.2 574.6,940.1 576.1,940.1 577.6,938.8 579.1,939.1 580.5,937.3 581.9,937.6 583.2,936.1 584.6,935.7 585.8,935.0 587.1,934.6 588.3,933.8 589.6,932.0 590.8,932.2 592.0,931.1 593.3,929.9 594.4,928.9 595.6,927.2 596.7,927.1 597.9,925.1 599.0,924.7 600.2,923.8 601.4,922.5 602.5,921.4 603.7,919.7 604.8,918.5 605.8,917.5 606.9,916.0 607.9,915.8 609.0,914.9 610.0,912.9 611.0,913.0 612.1,911.2 613.1,910.1 614.1,909.2 615.2,907.5 616.2,906.1 617.1,905.0 618.1,904.1 619.1,902.5 620.0,901.5 620.9,901.4 621.9,900.3 622.9,898.8 623.8,898.0 624.8,897.0 625.7,896.3 626.7,895.3 627.6,893.8 628.5,893.1 629.5,891.5 630.4,889.6 631.4,888.7 632.3,887.2 633.3,885.8 634.2,885.1 635.2,884.3 636.1,882.7 637.1,881.3 638.0,880.4 639.0,878.9 640.0,877.6 640.9,876.5 641.9,875.2 642.8,874.0 643.8,873.3 644.8,872.4 645.7,870.3 646.7,869.2 647.6,869.0 648.6,867.8 649.5,867.2 650.5,865.9 651.5,864.5 652.6,862.9 653.6,861.5 654.7,861.1 655.7,859.8 656.7,858.5 657.8,857.6 658.8,856.4 659.8,855.5 660.9,854.0 661.9,852.9 662.9,852.8 664.0,851.5 665.0,850.2 666.0,849.6 667.1,847.9 668.1,846.7 669.1,846.7 670.2,845.2 671.2,844.0 672.3,843.0 673.3,841.5 674.4,840.9 675.6,839.7 676.7,838.7 677.9,837.1 679.0,836.6 680.2,835.2 681.4,834.6 682.5,833.9 683.7,832.9 684.8,831.4 686.1,830.9 687.3,828.9 688.6,828.2 689.9,827.4 691.1,826.4 692.4,826.7 693.7,825.0 694.9,825.2 696.2,824.6 697.6,823.1 699.1,822.6 700.6,822.0 702.0,821.1 703.5,820.3 704.9,819.9 706.3,819.3 707.6,818.3 709.3,817.8 711.0,817.8 712.6,818.6 714.1,817.6 715.6,818.3 717.1,818.2 718.5,817.1 719.8,816.4 721.1,815.9 722.3,816.0 723.5,814.7 724.8,813.9 725.9,812.2 727.0,812.1 728.1,809.8 729.1,808.6 730.2,807.6 731.3,805.9 732.4,806.2 733.7,804.5 735.0,803.2 736.3,802.2 737.6,802.4 738.8,801.7 740.0,801.0 741.6,800.6 743.0,801.3 744.3,801.5 745.7,802.9 746.6,803.4 747.6,805.5 748.5,806.8 749.5,807.4 750.5,809.6 751.4,810.6 752.3,812.0 753.2,812.3 754.1,813.5 755.1,814.6 756.0,816.3 757.1,817.0 758.5,817.7 760.0,818.0 761.6,817.4 763.2,818.0 764.8,818.5 766.1,818.9 767.4,819.8 768.7,819.3 770.0,820.3 771.2,821.3 772.4,821.9 773.9,821.9 775.2,821.1 776.6,820.4 778.1,818.7 779.1,818.1 780.1,816.8 781.2,816.1 782.3,815.3 783.5,813.3 784.6,812.5 785.7,811.5 786.8,811.0 787.8,810.1 788.9,808.1 789.9,807.3 791.0,805.9 792.1,805.0 793.3,805.0 794.6,803.6 795.8,803.0 797.2,802.7 798.6,802.2 800.0,802.1 801.4,800.8 802.9,801.2 804.2,801.5 805.6,800.3 807.0,801.0 808.5,799.8 809.9,800.6 811.4,799.8 812.9,800.8 814.3,800.1 815.7,799.3 817.1,800.0 818.4,799.2 819.8,798.0 821.2,797.6 822.6,797.1 824.1,796.7 825.7,796.7 827.0,796.9 828.4,795.4 829.9,796.0 831.4,795.7 832.8,795.3 834.3,795.0 835.8,794.6 837.3,793.9 838.7,793.5 840.0,793.6 841.5,793.1 842.9,792.0 844.2,792.0 845.5,791.2 846.8,790.7 848.2,790.2 849.7,790.3 851.4,790.2 852.7,789.5 854.0,790.1 855.4,789.0 856.8,789.4 858.2,788.3 859.7,788.9 861.3,788.3 862.9,788.3 864.7,788.7 866.6,788.2 868.6,788.3 869.8,788.2 871.1,788.4 872.4,788.1 873.7,788.9 875.0,788.7 876.4,787.8 877.9,789.1 879.3,788.8 880.8,788.0 882.3,788.2 883.8,788.0 885.4,788.6 887.0,788.3 888.6,788.4 890.3,788.1 891.9,788.2 893.6,788.6 895.4,787.6 897.1,788.2 898.4,787.6 899.8,787.5 901.2,788.0 902.7,788.1 904.1,788.0 905.6,787.9 907.1,787.5 908.6,788.7 910.1,788.7 911.6,788.6 913.2,788.0 914.8,788.1 916.3,787.5 917.9,787.5 919.5,788.5 921.1,788.5 922.7,788.5 924.3,788.6 925.8,788.8 927.4,788.8 929.0,787.4 930.6,788.0 932.1,787.5 933.7,788.2 935.2,787.8 936.7,788.3 938.2,788.4 939.8,788.3 941.3,787.7 942.8,787.8 944.3,788.2 945.9,788.2 947.4,788.9 948.9,788.3 950.4,788.2 952.0,788.2 953.5,788.1 955.0,788.2 956.5,788.3 958.1,788.8 959.6,788.3 961.1,788.5 962.6,789.4 964.2,789.3 965.7,789.5 967.2,789.6 968.7,789.1 970.3,789.2 971.8,788.7 973.3,789.4 974.8,788.5 976.4,789.8 977.9,789.8 979.5,789.5 981.1,788.8 982.7,789.4 984.2,789.3 985.8,788.8 987.4,789.9 989.0,789.0 990.6,788.9 992.2,788.8 993.7,789.0 995.3,789.4 996.8,788.9 998.4,789.0 999.9,789.1 1001.4,789.7 1002.9,789.5 1004.4,789.8 1005.8,790.2 1007.3,790.1 1008.7,790.7 1010.1,790.6 1011.4,789.6 1013.1,790.8 1014.8,790.1 1016.4,790.8 1018.0,790.5 1019.6,791.1 1021.1,790.4 1022.6,791.2 1024.1,791.2 1025.6,791.1 1027.0,791.4 1028.4,790.7 1029.9,790.9 1031.3,791.4 1032.7,790.8 1034.1,791.9 1035.6,791.1 1037.0,792.1 1038.5,792.7 1040.0,793.0 1041.5,793.3 1043.0,793.6 1044.5,792.7 1046.1,793.9 1047.6,793.6 1049.1,792.9 1050.6,792.8 1052.1,793.4 1053.7,793.8 1055.2,794.1 1056.7,794.3 1058.2,793.8 1059.7,794.5 1061.2,795.0 1062.7,794.4 1064.2,794.4 1065.7,794.4 1067.1,795.3 1068.6,795.3 1070.2,795.3 1071.7,795.8 1073.3,795.5 1075.0,795.4 1076.6,795.1 1078.2,795.6 1079.9,795.8 1081.5,796.2 1083.1,795.9 1084.7,796.2 1086.2,795.9 1087.7,796.7 1089.1,796.2 1090.5,796.8 1091.8,797.5 1093.0,796.8 1094.1,797.3 1095.2,798.0 1097.5,797.8 1099.2,798.0 1100.6,799.4 1101.7,799.8 1102.7,799.8 1103.7,801.5 1104.8,802.1 1106.2,802.9 1107.6,803.1 1108.8,805.0 1110.1,805.5 1111.3,805.6 1112.4,805.2 1113.7,804.8 1114.8,804.0 1116.1,803.3 1118.1,803.3 1119.2,802.6 1120.4,802.9 1121.8,803.5 1123.2,803.9 1124.7,804.1 1126.3,803.4 1128.0,804.5 1129.7,805.2 1131.5,805.0 1133.3,804.9 1134.6,804.3 1136.0,805.2 1137.5,805.4 1139.0,804.9 1140.5,804.7 1142.1,805.1 1143.7,804.0 1145.3,805.0 1146.9,804.7 1148.4,804.9 1150.0,804.1 1151.5,805.0 1152.9,804.2 1154.3,804.5 1155.9,806.0 1157.5,806.1 1159.1,806.4 1160.6,806.0 1162.2,807.1 1163.7,806.8 1165.1,807.2 1166.5,808.2 1167.9,808.9 1169.1,808.6 1170.3,809.6 1171.4,809.5 1173.4,809.7 1174.8,808.2 1176.0,807.9 1177.3,807.3 1179.0,808.2 1180.2,808.3 1181.6,808.5 1183.0,808.7 1184.6,809.0 1186.1,810.2 1187.7,810.2 1189.3,811.5 1190.9,811.6 1192.4,811.4 1193.9,811.3 1195.4,811.2 1197.0,811.0 1198.5,811.8 1200.1,810.7 1201.6,810.2 1203.0,811.3 1204.4,811.8 1205.7,812.9 1207.3,812.6 1208.7,812.2 1210.1,815.7 1211.5,814.3 1212.7,815.0 1214.0,817.3 1215.2,816.0 1216.6,817.7 1218.0,816.8 1219.3,815.0 1220.5,813.5 1221.7,812.7 1222.9,813.9 1224.6,812.9 1226.1,813.6 1227.6,815.1 1229.0,814.0 1230.4,815.2 1231.7,812.6 1233.0,810.9 1234.3,810.9 1235.1,811.6 1235.7,812.3 1236.4,815.4 1237.1,816.3 1237.9,818.7 1239.0,819.1 1240.1,818.8 1241.4,819.8 1242.8,818.7 1244.3,817.1 1245.8,817.5 1247.2,817.2 1248.6,817.3 1249.9,816.7 1251.1,816.5 1252.2,817.8 1253.4,819.0 1254.6,819.6 1255.8,820.8 1257.1,821.8 1258.5,823.3 1259.9,822.3 1261.3,821.1 1262.8,822.2 1264.3,819.6 1265.9,820.9 1267.6,820.0 1269.0,821.3 1270.4,820.8 1271.9,819.3 1273.5,820.0 1275.0,821.0 1276.6,820.0 1278.1,821.3 1279.6,820.6 1281.0,821.5 1282.5,819.6 1284.1,821.9 1285.6,821.0 1287.1,819.7 1288.5,819.9 1289.9,819.7 1291.2,819.1 1292.4,820.9 1294.2,819.6 1295.7,820.8 1297.1,820.6 1298.5,823.5 1300.0,823.1 1301.2,821.5 1302.5,821.2 1303.7,820.1 1304.9,819.2 1306.2,818.9 1307.6,816.5 1309.1,817.9 1310.7,817.7 1312.3,816.9 1314.0,817.3 1315.6,816.2 1317.1,816.9 1318.5,817.9 1319.8,815.8 1321.1,814.1 1322.3,814.9 1323.5,814.8 1324.8,815.3 1326.1,814.7 1327.3,815.1 1328.6,816.0 1329.9,816.6 1331.1,817.6 1332.4,819.2 1334.0,817.6 1335.5,818.8 1337.1,820.2 1338.6,820.5 1340.0,820.2 1341.6,822.1 1343.0,821.2 1344.4,818.8 1345.7,820.7 1346.7,819.9 1347.6,821.3 1348.5,823.6 1349.4,826.0 1350.5,825.6 1352.1,827.3 1353.9,825.3 1355.6,825.3 1357.1,825.4 1358.5,825.2 1359.5,827.1 1361.0,827.3 1362.1,827.2 1363.3,828.5 1364.6,825.4 1365.9,824.6 1367.3,823.0 1368.6,824.9 1370.2,824.5 1371.7,825.3 1373.3,824.5 1374.8,827.0 1376.2,827.2 1377.8,827.2 1379.2,825.2 1380.5,827.2 1381.9,824.8 1382.9,826.8 1383.7,826.1 1385.0,827.0 1387.6,827.9 1388.6,829.1 1389.8,830.1 1391.1,830.4 1392.6,828.8 1394.1,829.1 1395.7,828.9 1397.4,829.6 1399.1,830.0 1400.8,829.1 1402.5,829.7 1404.2,829.7 1405.9,829.3 1407.5,830.3 1409.1,830.3 1410.5,830.0 1412.1,829.6 1413.6,830.0 1415.1,829.6 1416.6,830.5 1418.1,830.8 1419.5,831.1 1420.9,830.9 1422.4,829.8 1423.8,830.9 1425.2,830.0 1426.6,831.1 1428.0,831.5 1429.5,831.6 1431.0,831.2 1432.4,831.3 1433.9,831.2 1435.4,830.7 1436.8,831.4 1438.3,830.7 1439.8,831.2 1441.3,832.1 1442.7,831.7 1444.2,831.4 1445.7,831.5 1447.1,831.8 1448.6,832.2 1450.1,831.8 1451.6,832.2 1453.1,833.0 1454.7,832.1 1456.3,832.4 1457.8,832.2 1459.3,832.4 1460.9,832.9 1462.3,833.8 1463.7,833.1 1465.1,833.6 1466.4,832.9 1467.6,833.8 1469.4,833.5 1471.0,834.2 1472.5,834.6 1473.9,833.5 1475.2,833.5 1476.5,834.8 1477.7,834.4 1479.0,835.2 1480.5,835.6 1481.9,835.4 1483.2,836.2 1484.6,835.9 1485.9,837.1 1487.2,837.0 1488.6,838.1 1490.0,839.0 1491.3,839.3 1492.7,840.0 1494.0,840.5 1495.4,840.3 1496.7,841.0 1498.1,841.4 1499.2,842.0 1500.2,842.9 1501.3,843.6 1502.4,844.6 1503.5,846.5 1504.6,847.0 1505.6,848.1 1506.6,849.0 1507.6,849.7 1508.6,852.2 1509.7,853.2 1510.6,853.9 1511.6,854.5 1512.5,856.5 1513.4,858.2 1514.3,858.8 1515.2,860.4 1516.0,861.2 1516.7,862.1 1517.5,863.9 1518.2,865.3 1519.0,866.9 1519.7,869.1 1520.4,870.3 1521.2,872.0 1521.9,873.1 1522.6,874.3 1523.3,874.7 1523.9,876.3 1524.6,877.7 1525.3,878.9 1526.0,880.1 1526.7,882.2 1527.3,882.9 1528.0,885.2 1528.6,885.2 1529.4,887.3 1530.1,889.0 1530.8,890.6 1531.4,891.4 1532.1,893.1 1532.8,893.9 1533.5,896.0 1534.3,896.7 1535.0,898.1 1535.8,900.1 1536.5,901.6 1537.3,901.8 1538.1,903.3 1538.9,904.7 1539.6,907.0 1540.3,907.3 1541.0,908.4 1542.0,909.6 1542.9,911.9 1543.8,912.7 1544.7,914.2 1545.7,914.9 1547.2,914.8 1548.9,915.2 1550.7,914.9 1552.4,914.3 1553.5,913.2 1554.6,913.0 1555.6,912.3 1556.7,910.6 1557.8,909.2 1559.0,907.4 1559.7,907.6 1560.5,905.6 1561.2,904.4 1562.0,902.9 1562.8,901.6 1563.6,900.3 1564.4,898.3 1565.1,897.3 1565.9,896.5 1566.7,894.7 1567.6,893.5 1568.6,892.6 1569.5,890.6 1570.4,890.0 1571.3,889.0 1572.3,887.8 1573.3,887.0 1574.3,885.6 1575.4,884.4 1576.5,883.7 1577.6,882.4 1578.8,881.8 1580.0,881.4 1581.2,880.6 1582.5,879.8 1583.8,879.8 1585.1,878.5 1586.6,877.6 1588.0,878.2 1589.5,877.7 1591.0,877.6 1592.4,877.1 1593.8,876.5 1595.2,875.8 1596.7,875.1 1598.2,875.5 1599.7,875.3 1601.1,875.2 1602.5,874.8 1603.7,873.5 1604.8,873.6 1606.6,874.0 1607.8,875.5 1609.5,875.8 1610.5,875.9 1611.6,874.7 1612.8,874.5 1614.1,873.9 1615.6,873.4 1617.2,872.2 1619.0,873.0 1620.3,872.5 1621.7,871.9 1623.3,871.9 1624.9,871.2 1626.6,872.2 1628.3,870.9 1630.0,871.8 1631.7,871.1 1633.3,871.9 1634.8,871.8 1636.2,870.8 1637.9,871.3 1639.5,871.0 1641.0,871.3 1642.4,871.6 1643.7,872.5 1645.0,872.6 1646.3,873.1 1647.6,873.5 1649.1,874.2 1650.5,874.9 1651.9,875.5 1653.3,875.8 1654.6,876.2 1655.9,876.3 1657.1,878.1 1658.2,878.9 1659.2,879.3 1660.3,881.2 1661.3,882.4 1662.3,882.6 1663.2,883.4 1664.0,885.1 1664.8,885.9 1665.3,888.2 1665.8,888.9 1666.3,890.4 1666.7,892.0 1667.0,894.3 1667.4,895.6 1667.7,897.3 1668.0,899.2 1668.3,900.5 1668.6,901.8 1668.8,902.9 1669.0,905.4 1669.2,906.3 1669.4,907.8 1669.6,909.8 1669.8,911.7 1669.9,912.6 1670.1,914.6 1670.2,916.4 1670.4,917.4 1670.6,918.5 1670.7,919.8 1670.9,921.2 1671.4,923.6 1671.9,924.6 1672.5,925.5 1673.3,925.8 1674.0,924.9 1674.8,923.2 1675.6,922.7 1676.5,920.4 1677.3,919.4 1678.1,917.7 1679.1,919.0 1680.0,919.5 1680.9,920.5 1681.9,921.8 1682.8,923.1 1683.8,924.3 1684.7,925.7 1685.7,926.4 1686.7,928.0 1687.5,929.2 1688.3,930.3 1689.1,931.6 1689.9,932.9 1690.7,934.6 1691.4,935.4 1692.7,935.1 1694.0,934.5 1695.2,931.7 1695.6,931.3 1696.0,930.0 1696.4,928.3 1696.8,926.7 1697.2,924.9 1697.7,922.4 1698.1,920.9 1698.5,919.9 1699.0,918.6 1699.7,917.2 1700.5,916.0 1701.2,914.8 1702.0,913.9 1702.9,912.0 1703.8,911.5 1705.0,910.1 1706.3,910.0 1707.7,910.5 1709.1,910.1 1710.5,910.0 1712.0,909.2 1713.6,908.6 1715.2,908.5 1716.7,908.2 1718.1,907.5 1719.6,906.9 1720.9,907.7 1722.3,907.5 1723.8,908.9 1725.0,908.6 1726.2,910.4 1727.5,911.4 1728.8,913.2 1730.1,913.7 1731.4,914.0 1733.0,914.5 1734.6,914.9 1736.3,914.9 1737.7,915.5 1739.0,916.2 1739.7,916.1 1740.3,917.1 1740.8,919.6 1741.2,920.3 1741.6,921.9 1742.1,923.3 1742.5,925.0 1743.0,926.6 1743.6,928.9 1744.1,930.6 1744.6,931.6 1745.1,932.9 1745.7,933.0 1746.4,933.0 1747.2,931.7 1748.0,930.2 1748.7,927.6 1749.5,927.0 1750.2,925.8 1750.8,923.5 1751.4,922.4 1752.2,920.6 1753.3,919.8 1754.4,920.5 1755.8,920.0 1757.2,919.1 1758.8,918.8 1760.4,919.7 1761.9,918.0 1763.2,917.8 1764.4,918.1 1765.7,917.4 1767.0,916.6 1768.4,915.1 1769.8,914.9 1771.4,915.0 1772.7,913.5 1774.1,913.1 1775.6,913.4 1777.1,913.5 1778.6,912.5 1780.2,912.6 1781.8,912.9 1783.3,912.4 1784.8,911.3 1786.1,911.0 1787.5,910.8 1788.9,909.1 1790.2,909.0 1791.6,908.0 1792.9,907.3 1794.3,906.7 1795.6,905.8 1796.8,905.0 1798.1,905.0 1799.6,904.5 1801.0,902.6 1802.3,903.0 1803.7,902.5 1805.0,901.1 1806.4,900.7 1807.9,901.0 1809.5,900.4 1810.9,899.6 1812.4,899.7 1813.9,899.4 1815.5,898.6 1817.1,898.4 1818.8,898.1 1820.4,899.0 1821.9,898.8 1823.4,898.2 1824.8,898.0 1826.4,897.2 1828.0,897.1 1829.5,896.5 1831.0,896.4 1832.4,896.2 1833.7,895.5 1835.0,895.6 1836.2,895.6 1838.0,895.6 1839.5,894.2 1840.9,894.3 1842.3,894.4 1843.8,894.9 1844.9,895.0 1845.9,896.2 1847.0,896.7 1848.0,898.2 1849.1,899.4 1850.2,900.0 1851.4,901.5 1852.4,902.2 1853.4,903.2 1854.4,903.9 1855.4,906.0 1856.5,907.0 1857.6,907.1 1858.7,908.9 1859.8,909.3 1861.0,910.3 1862.4,911.3 1863.8,912.2 1865.3,911.9 1866.8,913.4 1868.3,914.1 1869.8,914.1 1871.1,915.7 1872.4,916.5 1873.7,917.6 1874.9,917.7 1876.0,919.6 1877.1,920.6 1878.1,920.7 1879.0,921.8 1880.0,922.4 1881.5,923.3 1882.8,922.9 1884.1,922.5 1885.7,921.5 1886.8,921.2 1888.0,920.1 1889.3,920.0 1890.6,919.3 1891.9,917.9 1893.1,917.9 1894.3,917.6 1896.1,916.6 1897.7,916.6 1899.3,916.3 1901.0,917.3 1902.1,917.9 1903.2,918.6 1904.3,920.4 1905.4,920.9 1906.5,921.7 1907.6,923.4 1908.6,924.4 1909.4,926.5 1910.2,927.4 1911.0,928.1 1911.7,930.4 1912.4,931.0 1913.1,933.4 1913.7,934.8 1914.3,936.1 1914.8,937.0 1915.2,938.1 1915.6,939.6 1916.0,940.9 1916.3,942.2 1916.7,943.6 1917.0,945.1 1917.4,946.3 1917.7,949.2 1918.1,950.7 1918.3,952.7 1918.4,954.1 1918.6,955.6 1918.8,956.1 1918.9,956.9 1919.1,958.4 1919.3,960.6 1919.4,961.8 1919.6,963.7 1919.8,964.2 1919.9,965.9 1920.1,967.6 1920.2,969.0 1920.4,970.6 1920.6,973.0 1920.7,975.0 1920.9,975.8 1921.1,977.8 1921.2,980.1 1921.4,981.3 1921.6,982.6 1921.7,983.7 1921.9,985.5 1922.1,988.0 1922.2,988.9 1922.4,990.5 1922.6,992.4 1922.8,993.0 1922.9,995.0 1923.1,995.9 1923.3,997.9 1923.5,999.3 1923.6,1000.6 1923.8,1002.1 1924.0,1003.8 1924.1,1005.7 1924.3,1006.8 1924.5,1008.5 1924.7,1009.6 1924.8,1010.6 1925.0,1012.4 1925.2,1013.4 1925.4,1014.6 1925.5,1016.8 1925.7,1018.3 1925.9,1019.5 1926.0,1021.6 1926.2,1021.9 1926.4,1024.2 1926.6,1025.3 1926.8,1027.2 1926.9,1028.2 1927.1,1030.9 1927.3,1031.8 1927.5,1034.1 1927.6,1035.0 1927.8,1036.5 1928.0,1038.9 1928.2,1040.5 1928.3,1041.9 1928.5,1042.4 1928.7,1045.2 1928.9,1046.3 1929.0,1047.7 1929.2,1048.8 1929.3,1050.1 1929.5,1051.1 1929.8,1053.1 1930.1,1054.4 1930.3,1056.7 1930.6,1058.8 1930.8,1060.0 1931.1,1062.1 1931.4,1062.9 1931.6,1065.3 1931.8,1065.9 1932.1,1066.8 1932.3,1067.5 1932.6,1069.1 1933.6,1069.1 1934.6,1068.6 1935.6,1066.8 1935.9,1065.9 1936.1,1065.0 1936.4,1064.1 1936.6,1062.6 1936.9,1061.1 1937.1,1060.1 1937.4,1057.7 1937.6,1057.1 1937.9,1054.9 1938.2,1052.9 1938.5,1050.6 1938.6,1049.8 1938.8,1047.5 1939.0,1046.6 1939.1,1045.1 1939.3,1043.9 1939.4,1042.6 1939.6,1041.5 1939.8,1039.5 1939.9,1038.5 1940.1,1036.1 1940.3,1034.6 1940.4,1033.4 1940.6,1031.6 1940.8,1029.5 1941.0,1028.5 1941.1,1025.4 1941.3,1024.8 1941.5,1022.5 1941.7,1021.9 1941.9,1019.7 1942.1,1018.2 1942.2,1017.6 1942.4,1016.0 1942.6,1013.8 1942.9,1012.0 1943.2,1010.6 1943.4,1008.6 1943.7,1007.1 1944.0,1006.2 1944.3,1004.4 1944.6,1003.8 1944.9,1001.5 1945.2,1001.0 1945.5,998.8 1945.8,997.8 1946.1,996.7 1946.4,995.5 1946.7,993.7 1947.0,992.2 1947.3,990.9 1947.8,989.7 1948.2,987.7 1948.7,985.6 1949.2,984.7 1949.7,982.8 1950.2,981.8 1950.7,979.5 1951.1,978.7 1951.6,977.6 1952.1,975.9 1952.6,974.2 1953.4,973.6 1954.1,971.3 1954.9,969.9 1955.6,968.5 1956.4,967.1 1957.1,966.5 1957.8,965.6 1959.4,963.2 1960.8,963.3 1962.1,964.7 1962.3,965.3 1962.5,966.2 1962.7,968.3 1962.9,968.6 1963.1,970.7 1963.3,972.4 1963.5,974.5 1963.6,974.8 1963.8,977.5 1963.9,978.9 1964.1,981.0 1964.2,982.0 1964.3,983.9 1964.5,986.3 1964.6,987.7 1964.7,989.1 1964.8,990.1 1964.9,991.9 1965.0,993.1 1965.1,995.1 1965.2,996.6 1965.3,998.3 1965.4,998.8 1965.5,999.9 1965.6,1001.7 1965.7,1003.7 1965.8,1005.6 1965.9,1006.9 1966.0,1007.7 1966.1,1010.2 1966.2,1011.0 1966.3,1012.3 1966.4,1013.3 1966.5,1015.1 1966.7,1017.7 1966.8,1019.2 1966.9,1020.5 1967.0,1022.3 1967.1,1024.2 1967.3,1026.2 1967.4,1028.8 1967.5,1029.7 1967.7,1030.8 1967.8,1032.6 1968.0,1033.3 1968.1,1034.0 1968.3,1034.9 1969.0,1035.9 1969.8,1036.0 1970.7,1033.0 1971.5,1031.3 1971.7,1029.9 1972.0,1028.2 1972.2,1026.6 1972.4,1025.1 1972.6,1023.5 1972.9,1021.4 1973.1,1020.4 1973.3,1018.5 1973.5,1016.6 1973.8,1014.1 1974.0,1014.1 1974.2,1012.2 1974.5,1011.5 1975.2,1009.3 1975.9,1007.7 1976.6,1007.3 1977.4,1007.2 1978.2,1004.3 1978.5,1003.2 1978.9,1002.1 1979.2,1001.7 1979.6,1000.3 1979.9,998.9 1980.3,997.3 1980.7,995.9 1981.1,993.6 1981.4,991.7 1981.8,990.3 1982.2,989.3 1982.6,988.4 1983.0,986.8 1983.7,985.3 1984.5,983.1 1985.3,981.0 1986.1,980.6 1986.9,978.9 1987.7,978.0 1988.5,977.5 1989.9,975.5 1991.2,975.9 1992.6,975.7 1994.0,974.3 1995.4,975.3 1996.7,975.3 1998.1,975.5 1999.6,974.4 2000.6,974.5 2001.7,973.5 2002.7,971.6 2003.8,970.4 2004.9,969.9 2006.1,968.2 2007.5,967.7 2009.1,966.3 2010.6,966.5 2012.2,965.7 2013.7,965.2 2014.9,965.5 2016.2,967.1 2017.4,967.2 2018.6,968.3 2019.9,968.2 2021.3,968.5 2022.4,970.3 2023.5,970.3 2024.7,971.4 2025.9,972.1 2027.1,973.7 2028.3,973.8 2029.6,975.2 2030.9,975.6 2032.1,977.3 2033.2,976.7 2034.4,978.1 2035.6,978.5 2036.9,978.9 2038.2,979.9 2039.5,981.0 2040.9,981.7 2042.3,981.4 2043.6,982.5 2044.9,982.9 2046.3,983.6 2047.8,983.7 2049.3,984.7 2050.8,984.9 2052.2,984.9 2053.7,985.1 2055.0,985.6 2056.3,986.0 2057.5,987.1 2059.1,987.1 2060.5,987.8 2061.8,987.8 2063.0,988.6 2064.2,989.9 2065.5,991.1 2067.0,991.5 2068.1,991.8 2069.2,992.8 2070.4,993.8 2071.6,995.2 2072.8,995.4 2074.1,996.9 2075.4,997.8 2076.6,998.8 2077.9,999.7 2079.2,1000.5 2080.4,1001.5 2081.6,1003.3 2082.9,1003.6 2084.1,1004.3 2085.4,1006.0 2086.7,1006.7 2087.9,1006.7 2089.1,1007.5 2090.3,1008.6 2091.5,1009.6 2092.6,1009.3 2093.7,1011.1 2095.3,1011.8 2096.8,1012.0 2098.2,1013.3 2099.5,1014.0 2100.8,1014.6 2102.0,1015.1 2103.2,1015.2 2104.8,1015.5 2106.2,1016.9 2107.6,1017.1 2108.8,1017.2 2109.9,1018.7 2110.7,1020.7 2111.4,1021.1 2112.0,1023.4 2112.6,1024.0 2113.2,1025.9 2113.7,1027.9 2114.2,1028.4 2114.5,1029.9 2114.9,1031.5 2115.5,1032.4 2116.6,1033.8 2117.6,1034.8 2118.9,1034.2 2120.3,1034.2 2121.9,1034.1 2123.5,1034.9 2125.1,1035.2 2126.6,1035.7 2128.0,1036.2 2129.4,1035.8 2130.7,1037.3 2132.0,1037.8 2133.3,1038.8 2134.6,1040.2 2136.0,1040.3 2137.5,1041.2 2138.8,1041.9 2140.1,1042.3 2141.5,1043.5 2143.0,1042.8 2144.5,1043.8 2146.0,1044.5 2147.6,1044.2 2149.2,1045.4 2150.9,1045.5 2152.2,1045.1 2153.5,1045.3 2154.9,1046.1 2156.3,1046.3 2157.8,1046.9 2159.2,1047.5 2160.7,1046.8 2162.2,1048.0 2163.6,1047.6 2165.1,1047.4 2166.6,1048.3 2168.0,1047.9 2169.6,1049.2 2171.1,1049.2 2172.7,1048.9 2174.2,1048.9 2175.8,1049.2 2177.3,1048.5 2178.9,1049.1 2180.4,1048.9 2182.0,1048.6 2183.5,1048.7 2185.1,1049.4 2186.7,1049.4 2188.4,1049.2 2190.1,1049.0 2191.8,1049.0 2193.6,1048.6 2195.3,1048.8 2196.9,1047.9 2198.4,1048.7 2199.9,1049.3 2201.2,1048.1 2202.3,1049.0 2204.5,1049.0 2205.9,1049.2 2206.8,1050.5 2208.0,1050.4 2209.3,1048.7 2210.6,1047.5 2212.0,1047.7 2213.7,1046.4 2215.1,1047.0 2216.7,1045.4 2218.3,1046.3 2220.0,1044.5 2221.7,1044.1 2223.2,1045.6 2224.5,1046.1 2225.8,1045.3 2226.9,1047.5 2228.1,1047.4 2229.4,1047.2 2230.9,1048.7 2232.2,1048.5 2233.6,1047.2 2235.1,1046.8 2236.6,1048.2 2238.1,1047.0 2239.6,1047.1 2241.0,1045.9 2242.3,1046.8 2243.8,1047.9 2245.1,1048.2 2246.4,1048.4 2247.6,1050.0 2248.7,1050.7 2249.9,1049.4 2251.1,1048.8 2252.3,1048.3 2253.4,1047.5 2254.5,1046.4 2255.6,1043.3 2256.6,1044.8 2257.9,1045.8 2259.0,1045.7 2260.1,1046.7 2261.3,1049.3 2262.6,1049.5 2264.0,1048.7 2265.4,1050.3 2267.0,1052.1 2268.4,1049.1 2269.9,1051.3 2271.5,1049.2 2273.1,1046.8 2274.7,1046.9 2276.0,1047.2 2277.3,1047.4 2278.7,1043.1 2280.0,1045.3 2281.2,1042.7 2282.3,1043.2 2283.1,1043.0 2283.9,1044.5 2284.7,1045.7 2285.3,1048.4 2285.9,1049.6 2286.5,1049.7 2287.0,1051.2 2287.3,1053.2 2287.6,1053.4 2287.9,1057.8 2288.1,1057.2 2288.3,1058.9 2288.4,1062.1 2288.6,1064.8 2288.8,1064.8 2289.0,1064.7 2289.9,1068.6 2290.9,1067.3 2291.3,1067.2 2291.6,1064.9 2292.0,1065.8 2292.4,1064.2 2292.9,1062.1 2293.3,1060.7 2293.7,1057.6 2294.1,1057.8 2294.4,1054.7 2294.8,1052.0 2295.2,1052.9 2295.5,1049.8 2295.9,1046.6 2296.3,1046.0 2296.6,1047.4 2297.0,1045.5 2297.4,1046.1 2297.8,1049.4 2298.2,1049.9 2298.5,1053.6 2298.8,1053.3 2299.0,1054.1"/>
<path class="curve" stroke="#ff0000" stroke-width="7.0" shape-rendering="crispEdges" d="M115.0,1153.1 115.8,1152.6 116.7,1153.9 117.6,1152.7 118.7,1153.7 119.8,1154.4 121.0,1153.4 122.3,1154.0 123.6,1153.3 125.0,1152.8 126.5,1154.3 128.0,1154.5 129.6,1154.2 131.2,1153.4 132.9,1154.9 134.6,1153.3 136.4,1154.7 138.2,1153.7 140.0,1153.5 141.9,1153.8 143.8,1153.6 145.7,1152.9 147.6,1154.3 148.8,1154.0 150.1,1153.0 151.4,1153.3 152.8,1153.0 154.2,1152.9 155.6,1153.6 157.0,1153.5 158.5,1154.5 160.0,1153.0 161.5,1153.7 163.0,1153.3 164.6,1153.4 166.1,1154.2 167.7,1155.0 169.3,1153.7 170.9,1154.6 172.5,1153.2 174.1,1154.6 175.8,1154.0 177.4,1153.6 179.0,1155.3 180.6,1153.3 182.2,1154.8 183.8,1153.3 185.4,1154.3 186.9,1153.6 188.5,1154.6 190.0,1155.0 191.5,1154.8 193.0,1155.2 194.5,1154.7 195.9,1155.1 197.3,1154.9 198.7,1153.4 200.0,1154.2 201.7,1153.4 203.4,1154.8 205.0,1154.5 206.7,1154.0 208.3,1154.5 209.9,1154.7 211.5,1154.6 213.1,1153.3 214.6,1152.8 216.2,1154.5 217.7,1153.0 219.2,1154.3 220.7,1154.6 222.1,1154.6 223.6,1153.3 225.0,1154.7 226.5,1153.6 227.9,1153.4 229.3,1153.7 230.6,1153.1 232.0,1152.8 233.4,1152.5 234.7,1152.5 236.1,1153.6 237.4,1153.7 238.7,1152.3 240.0,1152.8 241.7,1152.5 243.4,1153.6 245.1,1152.5 246.7,1152.1 248.3,1152.1 249.9,1151.6 251.4,1152.2 253.0,1153.2 254.5,1153.1 255.9,1152.7 257.4,1151.2 258.8,1151.8 260.3,1151.6 261.7,1151.1 263.1,1151.2 264.5,1152.3 265.9,1152.0 267.2,1151.7 268.6,1151.6 270.0,1151.5 271.6,1151.9 273.3,1151.0 274.9,1151.5 276.5,1150.1 278.2,1149.8 279.8,1150.4 281.4,1150.2 283.0,1149.7 284.5,1150.5 286.0,1151.6 287.5,1150.0 288.9,1152.0 290.3,1151.3 291.5,1151.4 292.8,1152.4 293.9,1151.4 295.0,1151.4 297.2,1151.1 298.9,1152.5 300.3,1151.5 301.5,1152.6 302.6,1152.9 303.7,1153.6 305.0,1153.2 306.4,1154.5 307.8,1154.6 309.2,1155.8 310.6,1155.2 312.0,1156.0 313.6,1156.8 315.2,1158.3 316.3,1159.3 317.4,1159.6 318.5,1159.8 319.6,1161.1 320.8,1161.1 322.0,1162.0 323.2,1163.2 324.5,1164.5 325.8,1165.4 327.2,1166.2 328.6,1166.8 329.6,1168.6 330.6,1168.8 331.6,1169.6 332.7,1170.8 333.8,1172.4 334.9,1172.2 336.0,1174.0 337.2,1174.2 338.3,1175.2 339.5,1176.2 340.7,1176.9 341.8,1178.6 343.0,1180.0 344.2,1180.9 345.3,1181.3 346.5,1182.5 347.6,1183.8 348.7,1184.8 349.7,1185.1 350.8,1186.5 351.9,1188.2 353.0,1188.9 354.1,1190.1 355.2,1191.1 356.3,1192.1 357.4,1194.1 358.5,1195.3 359.6,1195.9 360.6,1197.4 361.7,1198.6 362.7,1200.1 363.7,1201.1 364.7,1201.6 365.7,1202.7 366.7,1204.6 367.7,1205.9 368.7,1206.5 369.6,1207.7 370.5,1208.5 371.5,1210.1 372.4,1210.6 373.2,1211.4 374.1,1213.5 375.0,1214.5 375.8,1214.8 376.7,1216.7 377.5,1217.9 378.4,1218.6 379.3,1219.4 380.1,1221.0 381.0,1222.2 381.9,1224.5 382.7,1225.0 383.5,1226.7 384.3,1227.9 385.1,1228.5 385.9,1230.2 386.7,1231.3 387.5,1232.5 388.3,1233.9 389.1,1234.6 389.9,1236.8 390.7,1238.0 391.5,1239.2 392.3,1241.4 393.1,1242.4 393.9,1242.8 394.7,1245.1 395.5,1246.5 396.3,1247.5 397.1,1249.5 397.9,1250.9 398.6,1251.5 399.4,1253.1 400.2,1253.8 400.9,1254.9 401.7,1256.6 402.5,1257.1 403.2,1259.7 404.0,1260.5 404.8,1261.0 405.5,1262.8 406.3,1264.4 407.0,1265.7 407.8,1266.9 408.6,1267.5 409.3,1269.8 410.1,1271.3 410.9,1271.9 411.6,1273.0 412.4,1275.0 413.2,1274.9 414.0,1277.4 414.8,1278.7 415.6,1278.9 416.4,1280.6 417.2,1282.5 418.0,1282.9 418.8,1284.6 419.6,1285.4 420.4,1287.6 421.2,1287.9 422.0,1289.0 422.8,1291.0 423.6,1292.5 424.4,1292.6 425.2,1294.9 426.0,1294.9 426.8,1296.9 427.6,1297.4 428.5,1299.6 429.4,1300.1 430.3,1301.6 431.2,1303.6 432.1,1303.6 433.0,1305.0 433.9,1306.9 434.8,1308.7 435.7,1309.0 436.6,1310.8 437.5,1312.0 438.4,1312.6 439.3,1313.8 440.2,1315.0 441.1,1315.8 442.0,1317.7 442.9,1319.4 443.8,1320.6 444.7,1321.1 445.6,1322.3 446.6,1323.1 447.5,1324.9 448.4,1325.5 449.4,1326.9 450.3,1328.4 451.2,1329.6 452.1,1331.7 453.0,1332.9 453.9,1332.8 454.8,1334.3 455.6,1335.0 456.5,1336.3 457.3,1338.4 458.1,1339.1 459.1,1340.6 460.1,1342.1 461.0,1343.0 462.0,1343.9 462.8,1345.4 463.7,1346.6 464.6,1347.9 465.4,1349.1 466.3,1349.6 467.1,1351.6 467.9,1351.8 468.7,1353.5 469.5,1354.3 470.5,1355.4 471.5,1356.5 472.5,1358.7 473.4,1359.1 474.4,1360.4 475.3,1361.6 476.2,1362.9 477.1,1363.4 478.1,1365.4 479.0,1365.4 480.1,1367.2 481.1,1368.6 482.2,1369.1 483.3,1370.3 484.3,1371.0 485.4,1372.1 486.5,1372.4 487.5,1373.6 488.6,1373.9 489.9,1374.6 491.3,1375.8 492.6,1377.1 493.9,1378.3 495.3,1378.4 496.6,1379.6 498.1,1380.6 499.4,1380.8 500.8,1380.9 502.1,1381.5 503.6,1381.9 505.0,1382.3 506.5,1383.1 508.0,1384.4 509.5,1384.6 510.9,1384.8 512.3,1384.5 513.8,1384.9 515.3,1384.9 516.8,1384.6 518.4,1385.6 519.9,1385.1 521.4,1384.7 522.9,1385.9 524.4,1384.9 525.9,1386.3 527.3,1386.4 528.8,1386.3 530.3,1385.9 531.8,1386.0 533.2,1386.0 534.7,1385.6 536.2,1385.9 537.7,1385.6 539.1,1386.9 540.5,1386.9 541.9,1386.2 543.3,1387.2 544.8,1387.7 546.3,1387.4 547.9,1388.0 549.5,1388.0 550.9,1387.4 552.5,1387.8 554.1,1388.2 555.7,1388.4 557.4,1388.6 559.1,1387.8 560.7,1389.0 562.3,1388.3 563.9,1388.6 565.3,1388.7 566.7,1389.0 568.4,1388.8 569.9,1388.0 571.3,1387.9 572.6,1387.8 573.9,1387.2 575.3,1387.7 576.6,1387.4 578.1,1386.9 579.5,1386.9 581.0,1385.3 582.5,1385.1 584.0,1385.2 585.5,1384.2 587.0,1384.0 588.5,1383.3 590.0,1383.4 591.4,1381.8 592.8,1381.7 594.1,1380.5 595.4,1380.0 596.6,1379.5 597.9,1377.7 599.1,1377.1 600.4,1375.6 601.6,1375.1 602.9,1374.2 604.0,1373.6 605.2,1372.7 606.3,1371.8 607.5,1370.4 608.6,1369.6 609.7,1368.6 610.9,1366.6 612.0,1365.9 613.2,1365.3 614.3,1363.1 615.4,1362.4 616.6,1361.9 617.7,1359.9 618.9,1359.7 620.0,1359.1 621.1,1358.0 622.3,1356.2 623.4,1355.3 624.6,1353.9 625.7,1353.9 626.7,1351.7 627.8,1351.5 628.8,1350.8 629.8,1349.3 630.9,1348.4 631.9,1347.2 632.9,1345.9 634.0,1344.4 635.0,1343.6 636.1,1342.4 637.1,1341.9 638.1,1340.9 639.2,1339.7 640.2,1339.1 641.3,1337.3 642.3,1336.4 643.4,1335.4 644.4,1334.4 645.5,1333.7 646.5,1332.3 647.6,1331.9 648.6,1330.5 649.7,1329.9 650.9,1328.7 652.0,1326.6 653.2,1325.7 654.3,1324.7 655.4,1323.3 656.6,1323.1 657.7,1321.3 658.9,1320.2 660.0,1319.8 661.1,1319.3 662.3,1317.5 663.4,1316.2 664.6,1315.8 665.7,1315.6 666.8,1313.6 668.0,1313.5 669.1,1311.9 670.3,1311.6 671.4,1310.2 672.5,1308.8 673.7,1308.8 674.8,1307.3 676.0,1306.9 677.1,1305.5 678.3,1304.6 679.5,1303.4 680.6,1302.4 681.8,1302.3 682.9,1301.4 684.2,1299.5 685.4,1298.7 686.7,1298.7 688.0,1297.8 689.2,1296.2 690.5,1295.3 691.8,1294.3 693.0,1294.5 694.3,1292.9 695.7,1292.6 697.2,1292.2 698.7,1291.3 700.1,1290.4 701.6,1289.1 703.0,1289.6 704.4,1288.3 705.7,1288.6 707.4,1288.4 709.1,1287.7 710.7,1287.4 712.2,1287.5 713.7,1287.3 715.2,1288.0 716.6,1287.4 717.9,1286.2 719.2,1285.5 720.4,1285.1 721.6,1284.4 722.9,1283.2 724.0,1280.9 725.0,1280.4 726.1,1279.8 727.1,1278.3 728.2,1277.1 729.3,1275.4 730.5,1274.7 731.8,1274.6 733.2,1273.9 734.6,1273.4 736.1,1272.1 737.5,1271.9 738.8,1271.6 740.0,1271.6 741.7,1270.5 743.1,1270.0 744.4,1270.8 745.7,1271.6 746.6,1272.4 747.6,1273.4 748.5,1274.2 749.5,1275.6 750.5,1277.6 751.4,1278.7 752.5,1279.1 753.6,1280.6 754.7,1282.5 755.8,1283.0 757.1,1283.7 758.5,1284.0 760.0,1284.7 761.6,1284.2 763.2,1284.3 764.8,1284.3 766.1,1284.8 767.3,1286.0 768.6,1286.6 769.9,1287.3 771.1,1288.2 772.4,1288.9 773.7,1288.0 774.9,1288.3 776.2,1286.3 777.5,1286.6 778.7,1284.9 780.0,1284.5 781.1,1283.8 782.1,1283.1 783.2,1281.5 784.2,1280.9 785.3,1279.8 786.4,1279.5 787.6,1278.4 788.8,1277.0 790.0,1275.8 791.1,1275.7 792.4,1274.2 793.8,1274.2 795.3,1272.7 797.1,1272.1 798.3,1272.5 799.6,1272.4 801.0,1271.8 802.5,1271.0 804.0,1270.8 805.6,1270.7 807.2,1271.5 808.7,1270.7 810.2,1271.1 811.7,1270.2 813.0,1270.3 814.3,1270.7 816.0,1269.6 817.5,1269.4 818.9,1268.6 820.2,1268.8 821.5,1268.5 822.8,1268.1 824.2,1266.9 825.7,1267.2 827.0,1266.4 828.4,1266.1 829.9,1266.5 831.4,1265.4 832.8,1264.9 834.3,1264.6 835.8,1264.2 837.3,1263.6 838.7,1264.4 840.0,1263.5 841.5,1263.7 842.7,1262.4 843.8,1262.9 844.9,1262.0 846.1,1262.7 847.5,1261.8 849.3,1262.6 851.4,1262.0 852.5,1261.6 853.6,1261.6 854.8,1262.0 856.1,1261.9 857.4,1261.0 858.7,1261.7 860.1,1261.7 861.6,1260.5 863.1,1260.4 864.6,1260.5 866.2,1260.4 867.8,1261.5 869.4,1261.0 871.1,1260.9 872.8,1260.4 874.5,1261.5 876.3,1260.4 878.1,1261.4 879.4,1260.4 880.8,1260.9 882.1,1261.3 883.6,1261.2 885.0,1261.4 886.5,1260.8 887.9,1261.3 889.4,1260.9 891.0,1261.2 892.5,1261.4 894.1,1260.3 895.6,1260.3 897.2,1260.2 898.8,1260.2 900.4,1260.3 902.0,1260.1 903.6,1261.2 905.2,1260.4 906.8,1261.1 908.4,1261.2 910.0,1260.5 911.6,1260.1 913.1,1260.0 914.7,1260.6 916.2,1261.3 917.7,1260.2 919.2,1261.2 920.8,1259.9 922.3,1260.3 923.8,1260.2 925.3,1260.6 926.9,1261.1 928.4,1260.6 929.9,1260.7 931.4,1261.5 933.0,1260.6 934.5,1261.4 936.0,1260.9 937.5,1261.6 939.1,1261.7 940.6,1261.4 942.1,1261.8 943.6,1261.2 945.2,1261.2 946.7,1261.4 948.2,1260.7 949.7,1261.3 951.3,1262.2 952.8,1261.1 954.3,1261.2 955.8,1261.0 957.3,1262.2 958.9,1261.7 960.4,1261.8 961.9,1261.3 963.4,1262.6 965.0,1261.5 966.5,1262.6 968.0,1262.1 969.5,1262.5 971.1,1261.9 972.6,1262.2 974.1,1262.1 975.6,1262.4 977.2,1263.2 978.7,1263.2 980.2,1262.4 981.7,1262.3 983.3,1262.8 984.8,1262.7 986.3,1262.3 987.8,1262.5 989.4,1262.6 990.9,1263.1 992.4,1263.2 993.9,1262.7 995.5,1263.5 997.0,1263.2 998.6,1263.5 1000.2,1263.7 1001.8,1263.1 1003.3,1263.1 1004.9,1263.9 1006.5,1264.3 1008.1,1264.1 1009.7,1264.0 1011.3,1264.9 1012.8,1264.7 1014.4,1263.9 1016.0,1264.1 1017.5,1265.1 1019.0,1264.6 1020.5,1264.5 1022.0,1264.8 1023.5,1265.4 1024.9,1265.7 1026.4,1265.7 1027.8,1265.7 1029.2,1265.2 1030.5,1265.3 1032.2,1265.7 1033.9,1266.0 1035.5,1265.8 1037.0,1266.1 1038.5,1267.2 1040.0,1266.2 1041.5,1266.5 1042.9,1266.7 1044.3,1267.3 1045.7,1268.0 1047.1,1267.1 1048.5,1268.3 1049.9,1268.7 1051.3,1268.2 1052.8,1268.8 1054.3,1269.1 1055.8,1269.2 1057.4,1268.8 1059.0,1269.1 1060.4,1269.2 1061.9,1269.1 1063.4,1269.5 1064.9,1269.3 1066.5,1269.5 1068.2,1269.6 1069.8,1269.9 1071.5,1270.0 1073.2,1270.9 1074.8,1270.7 1076.5,1270.4 1078.2,1270.1 1079.8,1270.1 1081.4,1271.4 1083.0,1270.5 1084.5,1271.7 1086.0,1270.9 1087.4,1271.6 1088.7,1272.1 1090.0,1271.3 1091.2,1272.5 1092.3,1272.1 1093.3,1271.5 1096.0,1272.8 1097.8,1272.7 1099.1,1274.3 1100.1,1275.0 1100.9,1275.6 1101.7,1275.4 1102.9,1276.3 1104.2,1277.3 1105.3,1276.5 1106.4,1277.2 1107.5,1277.3 1108.9,1278.2 1110.4,1278.3 1112.4,1279.0 1113.5,1278.7 1114.8,1278.9 1116.1,1279.6 1117.5,1280.2 1119.0,1279.7 1120.6,1279.3 1122.1,1279.7 1123.7,1280.9 1125.4,1280.9 1127.0,1280.6 1128.6,1280.2 1130.2,1280.5 1131.8,1281.6 1133.3,1280.6 1134.8,1281.0 1136.3,1281.9 1137.9,1281.6 1139.5,1281.4 1141.0,1281.2 1142.6,1281.9 1144.2,1280.7 1145.7,1281.5 1147.2,1280.9 1148.7,1281.1 1150.2,1280.4 1151.6,1280.9 1153.0,1280.5 1154.3,1281.3 1156.0,1280.9 1157.6,1281.1 1159.2,1281.5 1160.6,1281.3 1162.0,1282.3 1163.4,1282.2 1164.8,1282.7 1166.3,1282.5 1167.8,1283.6 1169.5,1283.5 1170.8,1283.2 1172.2,1283.7 1173.6,1283.6 1175.0,1284.4 1176.4,1284.7 1177.8,1284.8 1179.3,1284.8 1180.8,1285.4 1182.3,1284.6 1183.9,1285.6 1185.4,1285.5 1187.0,1285.2 1188.6,1285.8 1190.0,1285.9 1191.6,1286.6 1193.2,1286.3 1194.8,1286.5 1196.5,1286.1 1198.1,1287.5 1199.8,1287.8 1201.5,1287.8 1203.1,1287.0 1204.7,1287.1 1206.2,1286.8 1207.7,1288.5 1209.0,1287.0 1210.3,1288.2 1211.4,1288.0 1213.7,1287.5 1215.4,1288.1 1216.8,1288.1 1217.9,1286.6 1218.9,1285.9 1220.0,1286.2 1221.6,1288.5 1222.8,1290.8 1224.1,1291.3 1225.7,1290.3 1226.8,1291.1 1228.1,1289.1 1229.4,1287.0 1230.7,1285.8 1232.0,1286.2 1233.3,1286.4 1234.3,1286.1 1235.3,1285.0 1236.0,1285.9 1236.6,1288.5 1237.2,1289.6 1238.0,1292.8 1239.0,1293.9 1240.0,1294.5 1241.1,1295.1 1242.3,1294.6 1243.6,1296.4 1245.0,1295.6 1246.7,1297.7 1248.6,1297.3 1249.8,1298.0 1251.0,1297.2 1252.4,1298.1 1253.8,1296.1 1255.3,1297.0 1256.8,1297.4 1258.4,1298.5 1260.0,1297.1 1261.6,1296.9 1263.1,1297.9 1264.7,1298.0 1266.2,1298.6 1267.6,1297.1 1269.3,1299.3 1271.0,1298.1 1272.7,1299.0 1274.4,1299.2 1276.1,1298.3 1277.7,1299.0 1279.3,1298.3 1280.9,1300.7 1282.3,1300.9 1283.6,1299.4 1284.8,1299.5 1286.6,1299.2 1288.0,1300.4 1289.1,1298.7 1290.1,1299.0 1291.1,1296.5 1292.4,1295.0 1293.9,1295.4 1295.5,1297.8 1297.1,1297.3 1298.7,1298.1 1300.3,1299.9 1301.9,1297.6 1303.0,1297.8 1304.2,1296.1 1305.3,1295.2 1306.4,1293.8 1307.5,1292.4 1308.5,1291.1 1309.5,1289.8 1310.5,1291.6 1311.7,1292.0 1312.8,1291.7 1313.8,1294.0 1314.8,1295.2 1315.9,1295.6 1317.1,1295.7 1318.5,1295.4 1320.0,1294.8 1321.6,1293.0 1323.1,1293.2 1324.5,1292.5 1325.7,1292.5 1326.7,1293.1 1327.3,1295.4 1327.9,1296.8 1328.5,1299.5 1329.5,1299.2 1330.6,1299.3 1332.0,1299.4 1333.4,1297.6 1335.0,1299.0 1336.6,1297.0 1338.1,1297.1 1339.7,1297.4 1341.3,1297.5 1343.0,1297.3 1344.7,1298.8 1346.2,1297.8 1347.6,1298.4 1348.8,1298.6 1349.5,1301.7 1350.2,1302.7 1351.4,1304.1 1353.3,1305.8 1354.3,1306.5 1355.5,1305.5 1356.8,1304.6 1358.2,1306.5 1359.7,1304.8 1361.2,1305.9 1362.8,1305.0 1364.5,1304.8 1366.1,1304.4 1367.7,1304.2 1369.3,1306.0 1370.9,1305.6 1372.4,1305.3 1373.9,1304.6 1375.3,1305.3 1376.8,1305.0 1378.3,1304.6 1379.7,1306.5 1381.2,1306.2 1382.6,1306.9 1384.1,1307.5 1385.5,1307.1 1387.0,1307.3 1388.5,1307.7 1389.9,1308.0 1391.4,1306.3 1392.9,1308.8 1394.3,1306.9 1395.8,1308.0 1397.3,1307.3 1398.7,1308.4 1400.2,1308.5 1401.7,1307.4 1403.2,1308.4 1404.6,1308.0 1406.1,1308.0 1407.6,1309.0 1409.0,1309.3 1410.5,1309.5 1412.0,1309.4 1413.4,1309.6 1414.9,1308.7 1416.4,1309.4 1417.8,1309.0 1419.3,1309.5 1420.7,1309.0 1422.2,1308.9 1423.6,1309.0 1425.1,1309.7 1426.6,1309.6 1428.0,1310.1 1429.5,1310.6 1431.0,1311.0 1432.4,1311.2 1433.9,1311.4 1435.4,1310.8 1436.8,1311.7 1438.3,1311.7 1439.8,1311.8 1441.3,1311.7 1442.7,1312.1 1444.2,1311.6 1445.7,1312.0 1447.1,1311.5 1448.6,1312.3 1450.1,1312.8 1451.6,1312.3 1453.1,1311.9 1454.6,1312.4 1456.2,1311.8 1457.7,1312.3 1459.2,1313.0 1460.7,1312.5 1462.2,1312.1 1463.6,1313.1 1465.0,1313.2 1466.3,1313.4 1467.6,1313.1 1469.4,1314.3 1471.0,1314.1 1472.6,1313.7 1474.2,1314.4 1475.6,1314.7 1477.0,1314.9 1478.4,1314.4 1479.7,1314.9 1481.0,1314.8 1482.6,1315.3 1484.0,1315.6 1485.3,1316.0 1486.6,1317.3 1487.9,1317.2 1489.2,1317.8 1490.5,1318.4 1491.9,1318.7 1493.2,1318.9 1494.6,1319.8 1495.9,1319.0 1497.3,1319.5 1498.6,1321.2 1500.0,1321.4 1501.2,1321.6 1502.4,1323.0 1503.6,1324.1 1504.9,1325.4 1506.1,1325.8 1507.3,1327.3 1508.4,1328.5 1509.5,1328.4 1510.7,1330.0 1511.9,1330.6 1513.0,1331.7 1514.1,1333.1 1515.1,1333.7 1516.1,1334.8 1517.1,1336.7 1518.0,1338.0 1518.9,1338.6 1519.7,1339.7 1520.5,1342.0 1521.3,1343.5 1522.1,1344.2 1522.9,1345.9 1523.6,1346.9 1524.3,1348.9 1525.0,1350.7 1525.8,1352.0 1526.5,1352.5 1527.2,1353.7 1527.9,1355.9 1528.6,1356.9 1529.2,1358.3 1529.8,1359.1 1530.5,1361.0 1531.1,1362.6 1531.7,1364.1 1532.3,1364.7 1533.0,1366.0 1533.6,1366.9 1534.3,1367.9 1535.1,1370.1 1536.0,1371.5 1536.8,1371.6 1537.7,1372.8 1538.6,1375.0 1539.4,1375.3 1540.3,1376.9 1541.0,1378.4 1542.3,1379.0 1543.4,1381.0 1544.5,1381.3 1545.7,1382.3 1547.0,1384.2 1548.4,1384.1 1549.9,1385.0 1551.4,1385.1 1552.7,1384.7 1554.0,1383.9 1555.4,1383.3 1556.7,1382.9 1558.1,1381.7 1559.2,1381.2 1560.3,1380.3 1561.4,1379.1 1562.5,1377.9 1563.6,1376.9 1564.8,1375.6 1565.7,1374.3 1566.6,1372.9 1567.5,1371.6 1568.4,1371.4 1569.4,1369.6 1570.3,1369.1 1571.4,1367.2 1572.4,1367.2 1573.5,1365.5 1574.6,1364.4 1575.7,1364.4 1576.9,1362.7 1578.1,1362.1 1579.3,1360.8 1580.6,1360.5 1581.9,1360.0 1583.3,1359.2 1584.8,1359.4 1586.3,1358.3 1587.8,1357.8 1589.4,1357.7 1590.8,1357.0 1592.1,1357.3 1593.3,1357.5 1595.1,1356.7 1596.4,1358.0 1597.6,1358.3 1599.0,1357.8 1600.3,1356.8 1601.7,1356.7 1603.1,1355.1 1604.5,1354.8 1605.7,1354.2 1607.0,1354.5 1608.1,1355.5 1609.2,1357.7 1610.5,1357.9 1611.5,1357.6 1612.4,1356.8 1613.5,1356.6 1615.0,1355.1 1617.1,1354.5 1618.2,1354.2 1619.4,1354.8 1620.8,1354.1 1622.2,1353.1 1623.8,1353.2 1625.4,1352.6 1627.1,1353.1 1628.7,1353.1 1630.3,1353.1 1631.9,1353.1 1633.5,1352.2 1634.9,1352.2 1636.2,1352.8 1638.0,1352.6 1639.6,1353.1 1641.2,1352.7 1642.7,1352.5 1644.2,1352.9 1645.6,1352.5 1646.9,1353.5 1648.2,1353.9 1649.5,1353.0 1651.1,1354.0 1652.5,1354.7 1653.9,1354.9 1655.3,1356.3 1656.5,1357.1 1657.8,1356.8 1659.0,1358.1 1660.4,1358.5 1661.9,1359.6 1663.3,1359.9 1664.6,1360.9 1665.7,1361.8 1666.7,1363.9 1667.3,1364.9 1667.8,1366.0 1668.1,1367.8 1668.5,1369.7 1668.7,1371.7 1669.0,1373.5 1669.2,1374.1 1669.5,1376.8 1669.7,1377.7 1669.9,1379.8 1670.1,1381.1 1670.3,1382.8 1670.5,1384.7 1670.7,1386.1 1670.9,1387.2 1671.1,1389.0 1671.4,1390.0 1672.5,1391.4 1673.9,1391.5 1675.2,1389.8 1676.1,1390.0 1677.0,1388.8 1678.0,1387.3 1679.0,1387.0 1680.1,1387.9 1681.3,1388.9 1682.6,1390.0 1683.8,1392.0 1684.8,1393.1 1685.8,1394.4 1686.8,1394.2 1687.7,1395.6 1688.6,1397.6 1689.9,1398.9 1691.2,1399.6 1692.4,1400.3 1693.3,1398.7 1694.2,1397.7 1695.2,1396.7 1696.2,1395.1 1696.8,1393.8 1697.4,1392.7 1698.0,1390.4 1698.7,1389.1 1699.4,1387.5 1700.2,1386.9 1701.0,1385.7 1702.3,1384.4 1703.8,1384.2 1705.4,1383.9 1707.0,1384.6 1708.6,1384.1 1710.0,1383.0 1711.4,1382.2 1712.9,1382.1 1714.4,1380.8 1715.8,1381.2 1717.1,1381.0 1718.5,1380.8 1719.9,1381.2 1721.1,1382.1 1722.4,1383.3 1723.8,1383.8 1725.3,1383.8 1726.8,1385.5 1728.3,1385.2 1729.9,1386.8 1731.4,1386.6 1733.0,1387.8 1734.6,1387.1 1736.2,1387.2 1737.7,1387.0 1739.0,1388.5 1740.0,1389.1 1740.9,1390.1 1741.6,1391.8 1742.2,1393.6 1742.9,1395.3 1743.6,1397.3 1744.2,1398.6 1744.9,1399.5 1745.7,1400.0 1746.5,1399.2 1747.5,1398.5 1748.6,1398.0 1749.6,1395.5 1750.5,1394.9 1751.3,1393.6 1752.0,1392.9 1752.8,1391.6 1754.3,1390.5 1755.3,1390.8 1756.5,1390.7 1757.8,1389.6 1759.3,1389.3 1760.8,1389.8 1762.4,1388.9 1764.0,1388.0 1765.7,1388.0 1767.1,1387.8 1768.5,1388.3 1770.0,1387.3 1771.5,1387.2 1773.1,1387.0 1774.7,1386.3 1776.3,1386.2 1777.9,1385.5 1779.5,1385.6 1781.0,1385.1 1782.4,1384.5 1783.8,1383.7 1785.2,1383.1 1786.6,1383.2 1788.0,1381.8 1789.4,1381.4 1790.8,1381.0 1792.2,1380.2 1793.6,1380.2 1794.9,1379.3 1796.2,1379.5 1797.7,1378.3 1799.2,1377.6 1800.6,1377.7 1801.9,1377.5 1803.3,1376.4 1804.7,1376.0 1806.2,1375.6 1807.8,1374.9 1809.5,1375.3 1810.8,1374.7 1812.2,1374.8 1813.6,1374.2 1815.1,1374.1 1816.6,1374.3 1818.2,1374.1 1819.7,1373.1 1821.3,1373.1 1822.8,1374.1 1824.3,1374.0 1825.8,1372.9 1827.2,1374.0 1828.6,1372.6 1830.3,1373.1 1832.0,1372.6 1833.7,1373.0 1835.3,1372.4 1836.9,1371.5 1838.5,1371.9 1839.9,1371.1 1841.3,1370.8 1842.6,1370.8 1843.8,1371.3 1845.5,1371.9 1846.8,1371.7 1847.8,1372.8 1848.9,1374.1 1850.0,1375.6 1851.4,1375.5 1852.5,1376.6 1853.7,1378.0 1854.9,1378.4 1856.2,1379.2 1857.6,1379.1 1858.9,1379.5 1860.3,1380.2 1861.6,1381.1 1862.9,1381.4 1864.2,1382.5 1865.5,1383.6 1866.8,1384.6 1868.1,1384.7 1869.4,1385.0 1870.6,1386.5 1871.9,1386.3 1873.1,1387.6 1874.3,1387.5 1875.8,1389.1 1877.2,1389.1 1878.6,1390.2 1880.0,1390.2 1881.3,1391.1 1882.6,1391.6 1883.8,1390.9 1885.4,1392.1 1887.0,1390.4 1888.5,1390.0 1889.9,1389.6 1891.4,1388.7 1892.9,1388.3 1894.4,1388.3 1896.0,1387.6 1897.5,1387.4 1899.0,1387.4 1900.5,1387.4 1902.1,1387.9 1903.6,1388.0 1905.2,1389.1 1906.7,1390.5 1908.0,1390.4 1909.3,1391.3 1910.7,1392.1 1912.0,1392.4 1913.2,1394.3 1914.3,1395.8 1915.0,1396.7 1915.7,1397.1 1916.4,1398.7 1916.9,1399.6 1917.5,1401.2 1918.0,1403.3 1918.5,1404.3 1919.0,1407.1 1919.2,1407.4 1919.5,1409.2 1919.7,1411.0 1919.9,1412.3 1920.1,1413.0 1920.2,1414.9 1920.4,1415.4 1920.6,1417.5 1920.8,1418.4 1920.9,1420.1 1921.1,1422.7 1921.3,1423.7 1921.5,1425.9 1921.7,1427.5 1921.9,1429.6 1922.0,1430.1 1922.2,1432.4 1922.4,1433.2 1922.5,1434.8 1922.7,1436.7 1922.8,1437.6 1923.0,1438.6 1923.2,1441.5 1923.3,1441.8 1923.5,1444.0 1923.7,1446.0 1923.8,1447.3 1924.0,1449.0 1924.2,1449.8 1924.3,1452.6 1924.5,1454.0 1924.7,1456.1 1924.9,1457.5 1925.0,1458.2 1925.2,1460.2 1925.4,1460.8 1925.5,1462.8 1925.7,1463.3 1926.0,1465.7 1926.2,1468.3 1926.5,1468.8 1926.7,1471.6 1927.0,1473.4 1927.2,1474.5 1927.5,1476.7 1927.7,1478.5 1928.0,1479.4 1928.2,1480.2 1928.5,1482.6 1928.7,1482.9 1929.0,1485.2 1929.2,1485.7 1929.5,1486.0 1930.1,1489.2 1930.8,1491.3 1931.4,1492.1 1932.1,1493.1 1932.8,1493.6 1933.5,1494.1 1934.3,1494.0 1935.0,1492.8 1935.9,1491.6 1936.7,1490.7 1937.5,1488.5 1938.3,1486.3 1938.6,1484.6 1938.9,1484.3 1939.2,1482.1 1939.5,1480.8 1939.7,1479.5 1940.0,1479.0 1940.3,1476.3 1940.6,1475.5 1940.9,1473.4 1941.2,1472.8 1941.5,1470.2 1941.8,1469.0 1942.1,1467.2 1942.4,1465.8 1942.7,1464.5 1943.0,1463.0 1943.4,1461.3 1943.9,1459.5 1944.4,1457.9 1944.9,1456.7 1945.3,1455.7 1945.8,1454.7 1946.3,1453.5 1946.8,1450.8 1947.3,1449.4 1947.8,1448.7 1948.3,1447.3 1948.8,1446.6 1949.4,1444.4 1950.0,1442.8 1950.5,1441.6 1951.1,1440.8 1951.7,1438.2 1952.3,1437.5 1952.9,1436.1 1953.4,1435.2 1954.0,1433.5 1954.5,1432.0 1955.4,1431.0 1956.2,1430.3 1957.0,1428.1 1957.7,1426.8 1958.5,1426.3 1959.2,1425.9 1960.6,1423.9 1961.9,1422.9 1963.0,1425.1 1963.2,1424.9 1963.4,1426.6 1963.6,1427.4 1963.8,1428.3 1964.0,1430.6 1964.1,1431.6 1964.3,1433.2 1964.4,1434.8 1964.6,1436.3 1964.7,1438.9 1964.9,1439.4 1965.0,1441.2 1965.2,1443.3 1965.3,1445.0 1965.4,1446.2 1965.6,1447.0 1965.7,1449.7 1965.8,1451.4 1965.9,1452.5 1966.0,1453.9 1966.1,1456.1 1966.2,1457.2 1966.3,1459.7 1966.4,1460.8 1966.5,1462.7 1966.7,1463.3 1966.8,1464.3 1966.9,1466.6 1967.1,1467.2 1967.8,1469.8 1968.5,1471.5 1969.3,1472.2 1970.2,1471.9 1971.1,1471.5 1972.0,1471.2 1973.0,1469.7 1974.0,1467.4 1974.5,1465.6 1975.0,1464.5 1975.6,1463.1 1976.1,1462.4 1976.6,1459.8 1977.2,1458.7 1977.7,1456.8 1978.3,1456.0 1978.9,1454.0 1979.4,1453.4 1980.0,1452.1 1980.6,1449.8 1981.1,1448.1 1981.7,1446.8 1982.4,1446.1 1983.0,1444.9 1983.9,1443.4 1984.9,1441.4 1985.8,1440.1 1986.8,1438.5 1987.8,1437.8 1988.8,1437.2 1990.2,1436.3 1991.7,1435.1 1993.1,1433.9 1994.5,1434.1 1995.8,1434.5 1997.1,1435.7 1998.3,1435.3 1999.7,1434.9 2000.9,1435.2 2002.1,1434.6 2003.4,1433.2 2004.7,1432.3 2006.1,1430.9 2007.5,1430.9 2009.1,1430.2 2010.6,1429.1 2012.2,1429.8 2013.7,1429.6 2015.2,1429.3 2016.6,1429.8 2018.0,1430.3 2019.5,1430.9 2021.3,1431.5 2022.4,1432.3 2023.6,1432.1 2024.8,1432.7 2026.0,1433.9 2027.4,1434.5 2028.7,1435.7 2030.0,1436.4 2031.4,1436.8 2032.8,1436.6 2034.2,1437.8 2035.6,1438.2 2037.0,1438.7 2038.5,1438.7 2040.0,1438.5 2041.5,1439.3 2043.0,1439.0 2044.5,1439.5 2046.1,1439.7 2047.5,1440.6 2049.0,1440.0 2050.5,1440.0 2052.0,1441.4 2053.6,1440.4 2055.1,1441.9 2056.7,1441.9 2058.2,1441.4 2059.8,1442.5 2061.3,1442.6 2062.7,1443.3 2064.1,1444.4 2065.5,1443.8 2066.9,1445.0 2068.3,1445.4 2069.6,1446.0 2071.0,1446.4 2072.4,1447.7 2073.8,1448.7 2075.2,1448.3 2076.6,1449.9 2078.0,1450.3 2079.4,1450.3 2080.8,1451.0 2082.2,1452.2 2083.6,1452.4 2085.0,1453.3 2086.4,1453.3 2087.8,1453.9 2089.2,1454.8 2090.5,1454.8 2091.8,1455.8 2093.4,1455.9 2095.0,1456.3 2096.6,1456.7 2098.1,1457.2 2099.7,1458.2 2101.2,1458.3 2102.6,1457.8 2103.9,1458.3 2105.1,1459.8 2106.8,1459.7 2108.2,1461.1 2109.5,1461.2 2110.7,1461.5 2111.8,1461.5 2112.8,1462.7 2113.7,1464.6 2114.1,1464.9 2114.6,1466.6 2115.3,1467.6 2116.6,1468.8 2117.7,1468.9 2119.0,1469.2 2120.4,1469.7 2122.0,1469.7 2123.7,1469.6 2125.3,1469.3 2127.0,1469.9 2128.5,1470.2 2129.9,1470.7 2131.5,1471.5 2132.9,1471.2 2134.3,1472.3 2135.6,1472.3 2137.1,1473.5 2138.6,1473.6 2140.4,1473.4 2141.7,1474.3 2143.0,1474.2 2144.4,1474.3 2145.9,1474.4 2147.4,1474.9 2149.0,1473.6 2150.5,1474.3 2152.1,1473.6 2153.6,1473.3 2155.1,1473.7 2156.6,1473.1 2158.1,1473.0 2159.6,1473.5 2161.1,1472.5 2162.6,1473.5 2164.0,1473.5 2165.5,1472.7 2167.0,1472.4 2168.5,1473.2 2170.1,1472.8 2171.8,1472.9 2173.2,1473.3 2174.6,1473.0 2176.0,1472.6 2177.5,1472.4 2179.0,1472.6 2180.6,1471.8 2182.1,1471.6 2183.7,1471.3 2185.2,1470.8 2186.7,1470.7 2188.1,1470.4 2189.5,1470.9 2190.9,1470.2 2192.6,1470.3 2194.2,1470.4 2195.7,1469.7 2197.3,1469.6 2198.7,1468.5 2200.2,1469.3 2201.7,1469.0 2203.1,1468.2 2204.6,1467.6 2206.1,1467.9 2207.6,1467.7 2209.2,1468.5 2210.7,1467.8 2212.3,1466.9 2213.9,1467.0 2215.4,1467.0 2216.9,1466.7 2218.4,1465.6 2219.9,1466.8 2221.3,1467.2 2222.8,1466.4 2224.4,1465.6 2225.9,1465.1 2227.3,1464.1 2228.7,1461.8 2230.1,1462.2 2231.4,1460.6 2232.6,1462.1 2233.7,1459.8 2235.3,1459.8 2236.5,1461.2 2237.5,1462.3 2238.7,1462.2 2240.4,1463.5 2241.5,1461.0 2242.7,1461.6 2244.1,1462.3 2245.5,1460.1 2247.0,1460.0 2248.5,1458.5 2249.9,1458.4 2251.3,1458.2 2252.6,1457.9 2253.7,1458.0 2255.3,1458.5 2256.7,1458.3 2257.9,1459.5 2259.0,1460.0 2260.2,1462.9 2261.3,1459.3 2262.2,1460.8 2263.0,1459.3 2263.8,1458.1 2264.6,1457.0 2265.4,1453.7 2266.2,1453.1 2267.1,1451.8 2268.0,1451.4 2269.1,1449.3 2270.3,1450.6 2271.6,1450.9 2272.9,1451.2 2274.2,1452.7 2275.4,1456.9 2276.6,1455.4 2278.0,1453.9 2279.3,1455.5 2280.6,1453.0 2281.9,1453.9 2283.1,1450.4 2284.2,1452.7 2284.9,1451.0 2285.6,1453.6 2286.2,1454.8 2286.8,1457.2 2287.4,1457.2 2287.9,1458.9 2288.5,1462.4 2289.0,1460.7 2290.4,1462.7 2291.6,1463.0 2292.8,1461.4 2293.0,1459.7 2293.3,1457.7 2293.5,1457.7 2293.7,1454.3 2293.9,1452.0 2294.1,1451.5 2294.3,1448.4 2294.5,1447.5 2294.7,1445.4 2294.9,1447.1 2295.1,1443.6 2295.4,1444.1 2295.6,1442.3 2296.8,1440.7 2298.1,1438.2 2299.0,1440.6"/>
</g>
<rect id="right-axis" x="2299" y="25" width="7" height="1683" fill="#000" shape-rendering="crispEdges"/>
<g id="annotations">
<g fill="#000"><rect x="376" y="891.0" width="6" height="3.7" shape-rendering="crispEdges"/><rect x="376" y="881.9" width="6" height="3.7" shape-rendering="crispEdges"/><rect x="376" y="872.8" width="6" height="3.7" shape-rendering="crispEdges"/><rect x="376" y="863.7" width="6" height="3.7" shape-rendering="crispEdges"/><rect x="376" y="854.6" width="6" height="3.7" shape-rendering="crispEdges"/><rect x="376" y="845.5" width="6" height="3.7" shape-rendering="crispEdges"/><rect x="376" y="836.4" width="6" height="3.7" shape-rendering="crispEdges"/><rect x="376" y="827.3" width="6" height="3.7" shape-rendering="crispEdges"/><rect x="376" y="818.2" width="6" height="3.7" shape-rendering="crispEdges"/><rect x="376" y="809.1" width="6" height="3.7" shape-rendering="crispEdges"/><rect x="376" y="800.0" width="6" height="3.7" shape-rendering="crispEdges"/><rect x="376" y="790.9" width="6" height="3.7" shape-rendering="crispEdges"/><rect x="376" y="781.8" width="6" height="3.7" shape-rendering="crispEdges"/><rect x="376" y="772.7" width="6" height="3.7" shape-rendering="crispEdges"/><rect x="376" y="763.6" width="6" height="3.7" shape-rendering="crispEdges"/><rect x="376" y="754.5" width="6" height="3.7" shape-rendering="crispEdges"/><rect x="376" y="745.4" width="6" height="3.7" shape-rendering="crispEdges"/><rect x="376" y="736.3" width="6" height="3.7" shape-rendering="crispEdges"/><rect x="376" y="727.2" width="6" height="3.7" shape-rendering="crispEdges"/><rect x="376" y="718.1" width="6" height="3.7" shape-rendering="crispEdges"/><rect x="376" y="709.0" width="6" height="3.7" shape-rendering="crispEdges"/><path d="M368.5,899 L389.5,899 L379.0,940 Z" stroke="#000" stroke-width="4" stroke-linejoin="round"/></g>
<g shape-rendering="crispEdges">
<rect x="256" y="178" width="370" height="7" fill="#ff0000"/>
<rect x="328" y="515" width="370" height="8" fill="#ff0000"/>
<rect x="158" y="696" width="369" height="8" fill="#ff0000"/>
<rect x="302" y="936" width="370" height="7" fill="#ff0000"/>
<rect x="150" y="1153" width="369" height="8" fill="#000"/>
<rect x="313" y="1386" width="370" height="7" fill="#000"/>
<rect x="535" y="343" width="4" height="1055" fill="#000"/>
<rect x="1551" y="350" width="4" height="1055" fill="#000"/>
<rect x="1693" y="696" width="3" height="763" fill="#000"/>
<rect x="1930" y="818" width="4" height="764" fill="#000"/>
<rect x="1975" y="823" width="3" height="764" fill="#000"/>
</g>
<g fill="#000"><rect x="376" y="467.0" width="6" height="3.7" shape-rendering="crispEdges"/><rect x="376" y="457.9" width="6" height="3.7" shape-rendering="crispEdges"/><rect x="376" y="448.8" width="6" height="3.7" shape-rendering="crispEdges"/><rect x="376" y="439.7" width="6" height="3.7" shape-rendering="crispEdges"/><rect x="376" y="430.6" width="6" height="3.7" shape-rendering="crispEdges"/><rect x="376" y="421.5" width="6" height="3.7" shape-rendering="crispEdges"/><rect x="376" y="412.4" width="6" height="3.7" shape-rendering="crispEdges"/><rect x="376" y="403.3" width="6" height="3.7" shape-rendering="crispEdges"/><rect x="376" y="394.2" width="6" height="3.7" shape-rendering="crispEdges"/><rect x="376" y="385.1" width="6" height="3.7" shape-rendering="crispEdges"/><rect x="376" y="376.0" width="6" height="3.7" shape-rendering="crispEdges"/><rect x="376" y="366.9" width="6" height="3.7" shape-rendering="crispEdges"/><rect x="376" y="357.8" width="6" height="3.7" shape-rendering="crispEdges"/><rect x="376" y="348.7" width="6" height="3.7" shape-rendering="crispEdges"/><rect x="376" y="339.6" width="6" height="3.7" shape-rendering="crispEdges"/><rect x="376" y="330.5" width="6" height="3.7" shape-rendering="crispEdges"/><rect x="376" y="321.4" width="6" height="3.7" shape-rendering="crispEdges"/><rect x="376" y="312.3" width="6" height="3.7" shape-rendering="crispEdges"/><rect x="376" y="303.2" width="6" height="3.7" shape-rendering="crispEdges"/><rect x="376" y="294.1" width="6" height="3.7" shape-rendering="crispEdges"/><rect x="376" y="285.0" width="6" height="3.7" shape-rendering="crispEdges"/><rect x="376" y="275.9" width="6" height="3.7" shape-rendering="crispEdges"/><rect x="376" y="266.8" width="6" height="3.7" shape-rendering="crispEdges"/><rect x="376" y="257.7" width="6" height="3.7" shape-rendering="crispEdges"/><rect x="376" y="248.6" width="6" height="3.7" shape-rendering="crispEdges"/><rect x="376" y="239.5" width="6" height="3.7" shape-rendering="crispEdges"/><rect x="376" y="230.4" width="6" height="3.7" shape-rendering="crispEdges"/><rect x="376" y="221.3" width="6" height="3.7" shape-rendering="crispEdges"/><rect x="376" y="212.2" width="6" height="3.7" shape-rendering="crispEdges"/><rect x="376" y="203.1" width="6" height="3.7" shape-rendering="crispEdges"/><rect x="376" y="194.0" width="6" height="3.7" shape-rendering="crispEdges"/><rect x="376" y="184.9" width="6" height="3.7" shape-rendering="crispEdges"/><path d="M368.5,475 L389.5,475 L379.0,516 Z" stroke="#000" stroke-width="4" stroke-linejoin="round"/></g>
<g fill="#000"><rect x="360" y="1344.0" width="6" height="3.7" shape-rendering="crispEdges"/><rect x="360" y="1334.9" width="6" height="3.7" shape-rendering="crispEdges"/><rect x="360" y="1325.8" width="6" height="3.7" shape-rendering="crispEdges"/><rect x="360" y="1316.7" width="6" height="3.7" shape-rendering="crispEdges"/><rect x="360" y="1307.6" width="6" height="3.7" shape-rendering="crispEdges"/><rect x="360" y="1298.5" width="6" height="3.7" shape-rendering="crispEdges"/><rect x="360" y="1289.4" width="6" height="3.7" shape-rendering="crispEdges"/><rect x="360" y="1280.3" width="6" height="3.7" shape-rendering="crispEdges"/><rect x="360" y="1271.2" width="6" height="3.7" shape-rendering="crispEdges"/><rect x="360" y="1262.1" width="6" height="3.7" shape-rendering="crispEdges"/><rect x="360" y="1253.0" width="6" height="3.7" shape-rendering="crispEdges"/><rect x="360" y="1243.9" width="6" height="3.7" shape-rendering="crispEdges"/><rect x="360" y="1234.8" width="6" height="3.7" shape-rendering="crispEdges"/><rect x="360" y="1225.7" width="6" height="3.7" shape-rendering="crispEdges"/><rect x="360" y="1216.6" width="6" height="3.7" shape-rendering="crispEdges"/><rect x="360" y="1207.5" width="6" height="3.7" shape-rendering="crispEdges"/><rect x="360" y="1198.4" width="6" height="3.7" shape-rendering="crispEdges"/><rect x="360" y="1189.3" width="6" height="3.7" shape-rendering="crispEdges"/><rect x="360" y="1180.2" width="6" height="3.7" shape-rendering="crispEdges"/><rect x="360" y="1171.1" width="6" height="3.7" shape-rendering="crispEdges"/><rect x="360" y="1162.0" width="6" height="3.7" shape-rendering="crispEdges"/><path d="M352.5,1354 L373.5,1354 L363.0,1395 Z" stroke="#000" stroke-width="4" stroke-linejoin="round"/></g>
</g>
<g id="labels">
<text transform="translate(116.00,1808.80) scale(1.0340,1)" font-size="63.50" font-weight="normal" text-anchor="middle">4000</text>
<text transform="translate(419.71,1808.80) scale(1.0340,1)" font-size="63.50" font-weight="normal" text-anchor="middle">3500</text>
<text transform="translate(723.42,1808.80) scale(1.0340,1)" font-size="63.50" font-weight="normal" text-anchor="middle">3000</text>
<text transform="translate(1027.13,1808.80) scale(1.0340,1)" font-size="63.50" font-weight="normal" text-anchor="middle">2500</text>
<text transform="translate(1330.84,1808.80) scale(1.0340,1)" font-size="63.50" font-weight="normal" text-anchor="middle">2000</text>
<text transform="translate(1634.55,1808.80) scale(1.0340,1)" font-size="63.50" font-weight="normal" text-anchor="middle">1500</text>
<text transform="translate(1938.26,1808.80) scale(1.0340,1)" font-size="63.50" font-weight="normal" text-anchor="middle">1000</text>
<text transform="translate(2241.97,1808.80) scale(1.0340,1)" font-size="63.50" font-weight="normal" text-anchor="middle">500</text>
<text transform="translate(122.80,132.90) scale(1.0230,1)" font-size="64.50" font-weight="normal" text-anchor="start">S1-70</text>
<text transform="translate(122.80,654.10) scale(1.0230,1)" font-size="64.50" font-weight="normal" text-anchor="start">S2-70</text>
<text transform="translate(126.60,1104.00) scale(1.0230,1)" font-size="64.50" font-weight="normal" text-anchor="start">S3-70</text>
<text transform="translate(476.70,1461.70) scale(1.0500,1)" font-size="53.90" font-weight="bold" text-anchor="start">3290</text>
<text transform="translate(1476.40,1480.00) scale(1.0250,1)" font-size="53.50" font-weight="bold" text-anchor="start">1627</text>
<text transform="translate(1619.60,1520.90) scale(1.0210,1)" font-size="53.50" font-weight="bold" text-anchor="start">1404</text>
<text transform="translate(1841.20,1638.00) scale(1.0220,1)" font-size="55.00" font-weight="bold" text-anchor="start">1004</text>
<text transform="translate(1975.60,1647.70) scale(1.0300,1)" font-size="54.60" font-weight="bold" text-anchor="start">948</text>
<text transform="translate(942.20,1929.70) scale(1.0250,1)" font-size="64.90">Wavelength (cm<tspan font-size="37.70" dx="0.50" dy="-34.80" letter-spacing="-1.60">-1</tspan><tspan dx="4.15" dy="34.80">)</tspan></text>
<text transform="translate(60.90,1188.00) scale(1.0650,1) rotate(-90)" font-size="62.70">Transmittance (a.u.)</text>
</g>
</svg>
</body>
</html>
